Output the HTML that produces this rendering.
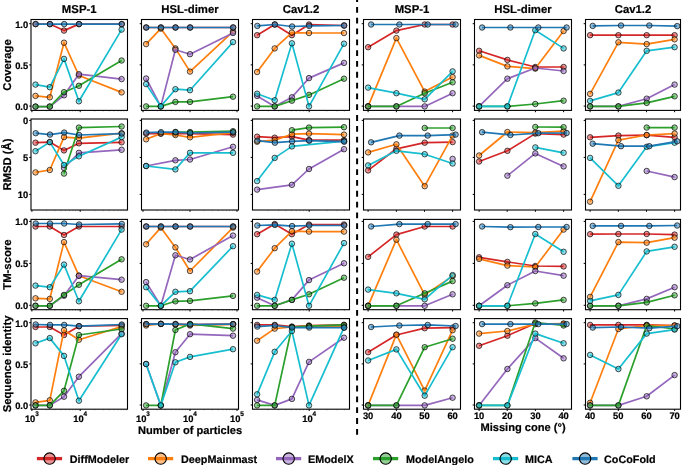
<!DOCTYPE html><html><head><meta charset="utf-8"><style>html,body{margin:0;padding:0;background:#fff;overflow:hidden;width:685px;height:465px;}svg{display:block;will-change:transform;}text{font-family:"Liberation Sans",sans-serif;font-weight:bold;fill:#000;stroke:#000;stroke-width:0.2px;text-rendering:geometricPrecision;}</style></head><body>
<svg width="685" height="465" viewBox="0 0 685 465">
<rect width="685" height="465" fill="#fff"/>
<text x="79.2" y="13.1" font-size="11.35" text-anchor="middle">MSP-1</text>
<text x="190.0" y="13.1" font-size="11.35" text-anchor="middle">HSL-dimer</text>
<text x="301.0" y="13.1" font-size="11.35" text-anchor="middle">Cav1.2</text>
<text x="412.0" y="13.1" font-size="11.35" text-anchor="middle">MSP-1</text>
<text x="523.0" y="13.1" font-size="11.35" text-anchor="middle">HSL-dimer</text>
<text x="633.0" y="13.1" font-size="11.35" text-anchor="middle">Cav1.2</text>
<text transform="translate(11.3,65.0) rotate(-90)" font-size="11.3" text-anchor="middle">Coverage</text>
<text transform="translate(11.3,164.5) rotate(-90)" font-size="11.3" text-anchor="middle">RMSD (Å)</text>
<text transform="translate(11.3,264.6) rotate(-90)" font-size="11.3" text-anchor="middle">TM-score</text>
<text transform="translate(11.3,363.9) rotate(-90)" font-size="11.3" text-anchor="middle">Sequence identity</text>
<clipPath id="cp00"><rect x="31" y="19.5" width="96.5" height="90.9"/></clipPath>
<line x1="29.2" y1="23.7" x2="31" y2="23.7" stroke="#000" stroke-width="1"/>
<text transform="translate(28.2,27.6) scale(1,1.0)" font-size="9.4" text-anchor="end">1.0</text>
<line x1="29.2" y1="64.9" x2="31" y2="64.9" stroke="#000" stroke-width="1"/>
<text transform="translate(28.2,68.8) scale(1,1.0)" font-size="9.4" text-anchor="end">0.5</text>
<line x1="29.2" y1="106.1" x2="31" y2="106.1" stroke="#000" stroke-width="1"/>
<text transform="translate(28.2,110.0) scale(1,1.0)" font-size="9.4" text-anchor="end">0.0</text>
<line x1="31.9" y1="110.4" x2="31.9" y2="112.2" stroke="#000" stroke-width="1"/>
<line x1="80.2" y1="110.4" x2="80.2" y2="112.2" stroke="#000" stroke-width="1"/>
<line x1="46.4" y1="110.4" x2="46.4" y2="111.60000000000001" stroke="#000" stroke-opacity="0.5" stroke-width="0.5"/>
<line x1="54.9" y1="110.4" x2="54.9" y2="111.60000000000001" stroke="#000" stroke-opacity="0.5" stroke-width="0.5"/>
<line x1="61.0" y1="110.4" x2="61.0" y2="111.60000000000001" stroke="#000" stroke-opacity="0.5" stroke-width="0.5"/>
<line x1="65.7" y1="110.4" x2="65.7" y2="111.60000000000001" stroke="#000" stroke-opacity="0.5" stroke-width="0.5"/>
<line x1="69.5" y1="110.4" x2="69.5" y2="111.60000000000001" stroke="#000" stroke-opacity="0.5" stroke-width="0.5"/>
<line x1="72.7" y1="110.4" x2="72.7" y2="111.60000000000001" stroke="#000" stroke-opacity="0.5" stroke-width="0.5"/>
<line x1="75.5" y1="110.4" x2="75.5" y2="111.60000000000001" stroke="#000" stroke-opacity="0.5" stroke-width="0.5"/>
<line x1="78.0" y1="110.4" x2="78.0" y2="111.60000000000001" stroke="#000" stroke-opacity="0.5" stroke-width="0.5"/>
<line x1="94.7" y1="110.4" x2="94.7" y2="111.60000000000001" stroke="#000" stroke-opacity="0.5" stroke-width="0.5"/>
<line x1="103.2" y1="110.4" x2="103.2" y2="111.60000000000001" stroke="#000" stroke-opacity="0.5" stroke-width="0.5"/>
<line x1="109.3" y1="110.4" x2="109.3" y2="111.60000000000001" stroke="#000" stroke-opacity="0.5" stroke-width="0.5"/>
<line x1="114.0" y1="110.4" x2="114.0" y2="111.60000000000001" stroke="#000" stroke-opacity="0.5" stroke-width="0.5"/>
<line x1="117.8" y1="110.4" x2="117.8" y2="111.60000000000001" stroke="#000" stroke-opacity="0.5" stroke-width="0.5"/>
<line x1="121.0" y1="110.4" x2="121.0" y2="111.60000000000001" stroke="#000" stroke-opacity="0.5" stroke-width="0.5"/>
<line x1="123.8" y1="110.4" x2="123.8" y2="111.60000000000001" stroke="#000" stroke-opacity="0.5" stroke-width="0.5"/>
<line x1="126.3" y1="110.4" x2="126.3" y2="111.60000000000001" stroke="#000" stroke-opacity="0.5" stroke-width="0.5"/>
<g clip-path="url(#cp00)"><polyline fill="none" stroke="#d62728" stroke-width="1.7" stroke-linejoin="round" points="35.5,24.1 49.8,24.1 64.0,30.6 78.9,24.1 121.6,24.1"/><circle cx="35.5" cy="24.1" r="2.75" fill="#d62728" fill-opacity="0.5" stroke="#000" stroke-opacity="0.85" stroke-width="0.8"/><circle cx="49.8" cy="24.1" r="2.75" fill="#d62728" fill-opacity="0.5" stroke="#000" stroke-opacity="0.85" stroke-width="0.8"/><circle cx="64.0" cy="30.6" r="2.75" fill="#d62728" fill-opacity="0.5" stroke="#000" stroke-opacity="0.85" stroke-width="0.8"/><circle cx="78.9" cy="24.1" r="2.75" fill="#d62728" fill-opacity="0.5" stroke="#000" stroke-opacity="0.85" stroke-width="0.8"/><circle cx="121.6" cy="24.1" r="2.75" fill="#d62728" fill-opacity="0.5" stroke="#000" stroke-opacity="0.85" stroke-width="0.8"/><polyline fill="none" stroke="#ff7f0e" stroke-width="1.7" stroke-linejoin="round" points="35.5,95.9 49.8,97.3 64.0,42.7 78.9,75.5 121.6,92.4"/><circle cx="35.5" cy="95.9" r="2.75" fill="#ff7f0e" fill-opacity="0.5" stroke="#000" stroke-opacity="0.85" stroke-width="0.8"/><circle cx="49.8" cy="97.3" r="2.75" fill="#ff7f0e" fill-opacity="0.5" stroke="#000" stroke-opacity="0.85" stroke-width="0.8"/><circle cx="64.0" cy="42.7" r="2.75" fill="#ff7f0e" fill-opacity="0.5" stroke="#000" stroke-opacity="0.85" stroke-width="0.8"/><circle cx="78.9" cy="75.5" r="2.75" fill="#ff7f0e" fill-opacity="0.5" stroke="#000" stroke-opacity="0.85" stroke-width="0.8"/><circle cx="121.6" cy="92.4" r="2.75" fill="#ff7f0e" fill-opacity="0.5" stroke="#000" stroke-opacity="0.85" stroke-width="0.8"/><polyline fill="none" stroke="#9467bd" stroke-width="1.7" stroke-linejoin="round" points="35.5,106.6 49.8,106.6 64.0,95.3 78.9,74.2 121.6,79.1"/><circle cx="35.5" cy="106.6" r="2.75" fill="#9467bd" fill-opacity="0.5" stroke="#000" stroke-opacity="0.85" stroke-width="0.8"/><circle cx="49.8" cy="106.6" r="2.75" fill="#9467bd" fill-opacity="0.5" stroke="#000" stroke-opacity="0.85" stroke-width="0.8"/><circle cx="64.0" cy="95.3" r="2.75" fill="#9467bd" fill-opacity="0.5" stroke="#000" stroke-opacity="0.85" stroke-width="0.8"/><circle cx="78.9" cy="74.2" r="2.75" fill="#9467bd" fill-opacity="0.5" stroke="#000" stroke-opacity="0.85" stroke-width="0.8"/><circle cx="121.6" cy="79.1" r="2.75" fill="#9467bd" fill-opacity="0.5" stroke="#000" stroke-opacity="0.85" stroke-width="0.8"/><polyline fill="none" stroke="#2ca02c" stroke-width="1.7" stroke-linejoin="round" points="35.5,106.6 49.8,106.6 64.0,92.2 78.9,85.8 121.6,60.5"/><circle cx="35.5" cy="106.6" r="2.75" fill="#2ca02c" fill-opacity="0.5" stroke="#000" stroke-opacity="0.85" stroke-width="0.8"/><circle cx="49.8" cy="106.6" r="2.75" fill="#2ca02c" fill-opacity="0.5" stroke="#000" stroke-opacity="0.85" stroke-width="0.8"/><circle cx="64.0" cy="92.2" r="2.75" fill="#2ca02c" fill-opacity="0.5" stroke="#000" stroke-opacity="0.85" stroke-width="0.8"/><circle cx="78.9" cy="85.8" r="2.75" fill="#2ca02c" fill-opacity="0.5" stroke="#000" stroke-opacity="0.85" stroke-width="0.8"/><circle cx="121.6" cy="60.5" r="2.75" fill="#2ca02c" fill-opacity="0.5" stroke="#000" stroke-opacity="0.85" stroke-width="0.8"/><polyline fill="none" stroke="#17becf" stroke-width="1.7" stroke-linejoin="round" points="35.5,84.6 49.8,87.2 64.0,58.9 78.9,101.3 121.6,29.6"/><circle cx="35.5" cy="84.6" r="2.75" fill="#17becf" fill-opacity="0.5" stroke="#000" stroke-opacity="0.85" stroke-width="0.8"/><circle cx="49.8" cy="87.2" r="2.75" fill="#17becf" fill-opacity="0.5" stroke="#000" stroke-opacity="0.85" stroke-width="0.8"/><circle cx="64.0" cy="58.9" r="2.75" fill="#17becf" fill-opacity="0.5" stroke="#000" stroke-opacity="0.85" stroke-width="0.8"/><circle cx="78.9" cy="101.3" r="2.75" fill="#17becf" fill-opacity="0.5" stroke="#000" stroke-opacity="0.85" stroke-width="0.8"/><circle cx="121.6" cy="29.6" r="2.75" fill="#17becf" fill-opacity="0.5" stroke="#000" stroke-opacity="0.85" stroke-width="0.8"/><polyline fill="none" stroke="#1f77b4" stroke-width="1.7" stroke-linejoin="round" points="35.7,24.1 50.0,24.1 64.2,24.1 79.1,24.1 121.8,24.1"/><circle cx="35.7" cy="24.1" r="2.75" fill="#1f77b4" fill-opacity="0.5" stroke="#000" stroke-opacity="0.85" stroke-width="0.8"/><circle cx="50.0" cy="24.1" r="2.75" fill="#1f77b4" fill-opacity="0.5" stroke="#000" stroke-opacity="0.85" stroke-width="0.8"/><circle cx="64.2" cy="24.1" r="2.75" fill="#1f77b4" fill-opacity="0.5" stroke="#000" stroke-opacity="0.85" stroke-width="0.8"/><circle cx="79.1" cy="24.1" r="2.75" fill="#1f77b4" fill-opacity="0.5" stroke="#000" stroke-opacity="0.85" stroke-width="0.8"/><circle cx="121.8" cy="24.1" r="2.75" fill="#1f77b4" fill-opacity="0.5" stroke="#000" stroke-opacity="0.85" stroke-width="0.8"/></g>
<rect x="31" y="19.5" width="96.5" height="90.9" fill="none" stroke="#000" stroke-width="1.1"/>
<clipPath id="cp01"><rect x="141.5" y="19.5" width="97.0" height="90.9"/></clipPath>
<line x1="139.7" y1="23.7" x2="141.5" y2="23.7" stroke="#000" stroke-width="1"/>
<line x1="139.7" y1="64.9" x2="141.5" y2="64.9" stroke="#000" stroke-width="1"/>
<line x1="139.7" y1="106.1" x2="141.5" y2="106.1" stroke="#000" stroke-width="1"/>
<line x1="143.0" y1="110.4" x2="143.0" y2="112.2" stroke="#000" stroke-width="1"/>
<line x1="190.0" y1="110.4" x2="190.0" y2="112.2" stroke="#000" stroke-width="1"/>
<line x1="237.0" y1="110.4" x2="237.0" y2="112.2" stroke="#000" stroke-width="1"/>
<line x1="157.1" y1="110.4" x2="157.1" y2="111.60000000000001" stroke="#000" stroke-opacity="0.5" stroke-width="0.5"/>
<line x1="165.4" y1="110.4" x2="165.4" y2="111.60000000000001" stroke="#000" stroke-opacity="0.5" stroke-width="0.5"/>
<line x1="171.3" y1="110.4" x2="171.3" y2="111.60000000000001" stroke="#000" stroke-opacity="0.5" stroke-width="0.5"/>
<line x1="175.9" y1="110.4" x2="175.9" y2="111.60000000000001" stroke="#000" stroke-opacity="0.5" stroke-width="0.5"/>
<line x1="179.6" y1="110.4" x2="179.6" y2="111.60000000000001" stroke="#000" stroke-opacity="0.5" stroke-width="0.5"/>
<line x1="182.7" y1="110.4" x2="182.7" y2="111.60000000000001" stroke="#000" stroke-opacity="0.5" stroke-width="0.5"/>
<line x1="185.4" y1="110.4" x2="185.4" y2="111.60000000000001" stroke="#000" stroke-opacity="0.5" stroke-width="0.5"/>
<line x1="187.8" y1="110.4" x2="187.8" y2="111.60000000000001" stroke="#000" stroke-opacity="0.5" stroke-width="0.5"/>
<line x1="204.1" y1="110.4" x2="204.1" y2="111.60000000000001" stroke="#000" stroke-opacity="0.5" stroke-width="0.5"/>
<line x1="212.4" y1="110.4" x2="212.4" y2="111.60000000000001" stroke="#000" stroke-opacity="0.5" stroke-width="0.5"/>
<line x1="218.3" y1="110.4" x2="218.3" y2="111.60000000000001" stroke="#000" stroke-opacity="0.5" stroke-width="0.5"/>
<line x1="222.9" y1="110.4" x2="222.9" y2="111.60000000000001" stroke="#000" stroke-opacity="0.5" stroke-width="0.5"/>
<line x1="226.6" y1="110.4" x2="226.6" y2="111.60000000000001" stroke="#000" stroke-opacity="0.5" stroke-width="0.5"/>
<line x1="229.7" y1="110.4" x2="229.7" y2="111.60000000000001" stroke="#000" stroke-opacity="0.5" stroke-width="0.5"/>
<line x1="232.4" y1="110.4" x2="232.4" y2="111.60000000000001" stroke="#000" stroke-opacity="0.5" stroke-width="0.5"/>
<line x1="234.8" y1="110.4" x2="234.8" y2="111.60000000000001" stroke="#000" stroke-opacity="0.5" stroke-width="0.5"/>
<g clip-path="url(#cp01)"><polyline fill="none" stroke="#d62728" stroke-width="1.7" stroke-linejoin="round" points="146.1,27.5 160.8,27.5 175.4,27.5 190.0,27.5 233.0,27.5"/><circle cx="146.1" cy="27.5" r="2.75" fill="#d62728" fill-opacity="0.5" stroke="#000" stroke-opacity="0.85" stroke-width="0.8"/><circle cx="160.8" cy="27.5" r="2.75" fill="#d62728" fill-opacity="0.5" stroke="#000" stroke-opacity="0.85" stroke-width="0.8"/><circle cx="175.4" cy="27.5" r="2.75" fill="#d62728" fill-opacity="0.5" stroke="#000" stroke-opacity="0.85" stroke-width="0.8"/><circle cx="190.0" cy="27.5" r="2.75" fill="#d62728" fill-opacity="0.5" stroke="#000" stroke-opacity="0.85" stroke-width="0.8"/><circle cx="233.0" cy="27.5" r="2.75" fill="#d62728" fill-opacity="0.5" stroke="#000" stroke-opacity="0.85" stroke-width="0.8"/><polyline fill="none" stroke="#ff7f0e" stroke-width="1.7" stroke-linejoin="round" points="146.1,44.1 160.8,28.6 175.4,48.4 190.0,71.6 233.0,31.6"/><circle cx="146.1" cy="44.1" r="2.75" fill="#ff7f0e" fill-opacity="0.5" stroke="#000" stroke-opacity="0.85" stroke-width="0.8"/><circle cx="160.8" cy="28.6" r="2.75" fill="#ff7f0e" fill-opacity="0.5" stroke="#000" stroke-opacity="0.85" stroke-width="0.8"/><circle cx="175.4" cy="48.4" r="2.75" fill="#ff7f0e" fill-opacity="0.5" stroke="#000" stroke-opacity="0.85" stroke-width="0.8"/><circle cx="190.0" cy="71.6" r="2.75" fill="#ff7f0e" fill-opacity="0.5" stroke="#000" stroke-opacity="0.85" stroke-width="0.8"/><circle cx="233.0" cy="31.6" r="2.75" fill="#ff7f0e" fill-opacity="0.5" stroke="#000" stroke-opacity="0.85" stroke-width="0.8"/><polyline fill="none" stroke="#9467bd" stroke-width="1.7" stroke-linejoin="round" points="146.1,78.5 160.8,106.4 175.4,49.8 190.0,54.2 233.0,33.0"/><circle cx="146.1" cy="78.5" r="2.75" fill="#9467bd" fill-opacity="0.5" stroke="#000" stroke-opacity="0.85" stroke-width="0.8"/><circle cx="160.8" cy="106.4" r="2.75" fill="#9467bd" fill-opacity="0.5" stroke="#000" stroke-opacity="0.85" stroke-width="0.8"/><circle cx="175.4" cy="49.8" r="2.75" fill="#9467bd" fill-opacity="0.5" stroke="#000" stroke-opacity="0.85" stroke-width="0.8"/><circle cx="190.0" cy="54.2" r="2.75" fill="#9467bd" fill-opacity="0.5" stroke="#000" stroke-opacity="0.85" stroke-width="0.8"/><circle cx="233.0" cy="33.0" r="2.75" fill="#9467bd" fill-opacity="0.5" stroke="#000" stroke-opacity="0.85" stroke-width="0.8"/><polyline fill="none" stroke="#2ca02c" stroke-width="1.7" stroke-linejoin="round" points="146.1,106.4 160.8,106.4 175.4,101.9 190.0,101.9 233.0,96.7"/><circle cx="146.1" cy="106.4" r="2.75" fill="#2ca02c" fill-opacity="0.5" stroke="#000" stroke-opacity="0.85" stroke-width="0.8"/><circle cx="160.8" cy="106.4" r="2.75" fill="#2ca02c" fill-opacity="0.5" stroke="#000" stroke-opacity="0.85" stroke-width="0.8"/><circle cx="175.4" cy="101.9" r="2.75" fill="#2ca02c" fill-opacity="0.5" stroke="#000" stroke-opacity="0.85" stroke-width="0.8"/><circle cx="190.0" cy="101.9" r="2.75" fill="#2ca02c" fill-opacity="0.5" stroke="#000" stroke-opacity="0.85" stroke-width="0.8"/><circle cx="233.0" cy="96.7" r="2.75" fill="#2ca02c" fill-opacity="0.5" stroke="#000" stroke-opacity="0.85" stroke-width="0.8"/><polyline fill="none" stroke="#17becf" stroke-width="1.7" stroke-linejoin="round" points="146.1,84.1 160.8,106.4 175.4,89.2 190.0,90.2 233.0,42.1"/><circle cx="146.1" cy="84.1" r="2.75" fill="#17becf" fill-opacity="0.5" stroke="#000" stroke-opacity="0.85" stroke-width="0.8"/><circle cx="160.8" cy="106.4" r="2.75" fill="#17becf" fill-opacity="0.5" stroke="#000" stroke-opacity="0.85" stroke-width="0.8"/><circle cx="175.4" cy="89.2" r="2.75" fill="#17becf" fill-opacity="0.5" stroke="#000" stroke-opacity="0.85" stroke-width="0.8"/><circle cx="190.0" cy="90.2" r="2.75" fill="#17becf" fill-opacity="0.5" stroke="#000" stroke-opacity="0.85" stroke-width="0.8"/><circle cx="233.0" cy="42.1" r="2.75" fill="#17becf" fill-opacity="0.5" stroke="#000" stroke-opacity="0.85" stroke-width="0.8"/><polyline fill="none" stroke="#1f77b4" stroke-width="1.7" stroke-linejoin="round" points="146.3,27.5 161.0,27.5 175.6,27.5 190.2,27.5 233.2,27.5"/><circle cx="146.3" cy="27.5" r="2.75" fill="#1f77b4" fill-opacity="0.5" stroke="#000" stroke-opacity="0.85" stroke-width="0.8"/><circle cx="161.0" cy="27.5" r="2.75" fill="#1f77b4" fill-opacity="0.5" stroke="#000" stroke-opacity="0.85" stroke-width="0.8"/><circle cx="175.6" cy="27.5" r="2.75" fill="#1f77b4" fill-opacity="0.5" stroke="#000" stroke-opacity="0.85" stroke-width="0.8"/><circle cx="190.2" cy="27.5" r="2.75" fill="#1f77b4" fill-opacity="0.5" stroke="#000" stroke-opacity="0.85" stroke-width="0.8"/><circle cx="233.2" cy="27.5" r="2.75" fill="#1f77b4" fill-opacity="0.5" stroke="#000" stroke-opacity="0.85" stroke-width="0.8"/></g>
<rect x="141.5" y="19.5" width="97.0" height="90.9" fill="none" stroke="#000" stroke-width="1.1"/>
<clipPath id="cp02"><rect x="252.5" y="19.5" width="97.0" height="90.9"/></clipPath>
<line x1="250.7" y1="23.7" x2="252.5" y2="23.7" stroke="#000" stroke-width="1"/>
<line x1="250.7" y1="64.9" x2="252.5" y2="64.9" stroke="#000" stroke-width="1"/>
<line x1="250.7" y1="106.1" x2="252.5" y2="106.1" stroke="#000" stroke-width="1"/>
<line x1="309.2" y1="110.4" x2="309.2" y2="112.2" stroke="#000" stroke-width="1"/>
<line x1="268.3" y1="110.4" x2="268.3" y2="111.60000000000001" stroke="#000" stroke-opacity="0.5" stroke-width="0.5"/>
<line x1="278.6" y1="110.4" x2="278.6" y2="111.60000000000001" stroke="#000" stroke-opacity="0.5" stroke-width="0.5"/>
<line x1="285.9" y1="110.4" x2="285.9" y2="111.60000000000001" stroke="#000" stroke-opacity="0.5" stroke-width="0.5"/>
<line x1="291.6" y1="110.4" x2="291.6" y2="111.60000000000001" stroke="#000" stroke-opacity="0.5" stroke-width="0.5"/>
<line x1="296.2" y1="110.4" x2="296.2" y2="111.60000000000001" stroke="#000" stroke-opacity="0.5" stroke-width="0.5"/>
<line x1="300.1" y1="110.4" x2="300.1" y2="111.60000000000001" stroke="#000" stroke-opacity="0.5" stroke-width="0.5"/>
<line x1="303.5" y1="110.4" x2="303.5" y2="111.60000000000001" stroke="#000" stroke-opacity="0.5" stroke-width="0.5"/>
<line x1="306.5" y1="110.4" x2="306.5" y2="111.60000000000001" stroke="#000" stroke-opacity="0.5" stroke-width="0.5"/>
<line x1="326.8" y1="110.4" x2="326.8" y2="111.60000000000001" stroke="#000" stroke-opacity="0.5" stroke-width="0.5"/>
<line x1="337.1" y1="110.4" x2="337.1" y2="111.60000000000001" stroke="#000" stroke-opacity="0.5" stroke-width="0.5"/>
<line x1="344.4" y1="110.4" x2="344.4" y2="111.60000000000001" stroke="#000" stroke-opacity="0.5" stroke-width="0.5"/>
<g clip-path="url(#cp02)"><polyline fill="none" stroke="#d62728" stroke-width="1.7" stroke-linejoin="round" points="257.1,35.2 274.7,24.5 291.9,35.2 309.0,24.5 344.0,25.5"/><circle cx="257.1" cy="35.2" r="2.75" fill="#d62728" fill-opacity="0.5" stroke="#000" stroke-opacity="0.85" stroke-width="0.8"/><circle cx="274.7" cy="24.5" r="2.75" fill="#d62728" fill-opacity="0.5" stroke="#000" stroke-opacity="0.85" stroke-width="0.8"/><circle cx="291.9" cy="35.2" r="2.75" fill="#d62728" fill-opacity="0.5" stroke="#000" stroke-opacity="0.85" stroke-width="0.8"/><circle cx="309.0" cy="24.5" r="2.75" fill="#d62728" fill-opacity="0.5" stroke="#000" stroke-opacity="0.85" stroke-width="0.8"/><circle cx="344.0" cy="25.5" r="2.75" fill="#d62728" fill-opacity="0.5" stroke="#000" stroke-opacity="0.85" stroke-width="0.8"/><polyline fill="none" stroke="#ff7f0e" stroke-width="1.7" stroke-linejoin="round" points="257.1,72.0 274.7,48.4 291.9,32.6 309.0,33.0 344.0,33.0"/><circle cx="257.1" cy="72.0" r="2.75" fill="#ff7f0e" fill-opacity="0.5" stroke="#000" stroke-opacity="0.85" stroke-width="0.8"/><circle cx="274.7" cy="48.4" r="2.75" fill="#ff7f0e" fill-opacity="0.5" stroke="#000" stroke-opacity="0.85" stroke-width="0.8"/><circle cx="291.9" cy="32.6" r="2.75" fill="#ff7f0e" fill-opacity="0.5" stroke="#000" stroke-opacity="0.85" stroke-width="0.8"/><circle cx="309.0" cy="33.0" r="2.75" fill="#ff7f0e" fill-opacity="0.5" stroke="#000" stroke-opacity="0.85" stroke-width="0.8"/><circle cx="344.0" cy="33.0" r="2.75" fill="#ff7f0e" fill-opacity="0.5" stroke="#000" stroke-opacity="0.85" stroke-width="0.8"/><polyline fill="none" stroke="#9467bd" stroke-width="1.7" stroke-linejoin="round" points="257.1,95.9 274.7,106.4 291.9,97.3 309.0,78.1 344.0,62.9"/><circle cx="257.1" cy="95.9" r="2.75" fill="#9467bd" fill-opacity="0.5" stroke="#000" stroke-opacity="0.85" stroke-width="0.8"/><circle cx="274.7" cy="106.4" r="2.75" fill="#9467bd" fill-opacity="0.5" stroke="#000" stroke-opacity="0.85" stroke-width="0.8"/><circle cx="291.9" cy="97.3" r="2.75" fill="#9467bd" fill-opacity="0.5" stroke="#000" stroke-opacity="0.85" stroke-width="0.8"/><circle cx="309.0" cy="78.1" r="2.75" fill="#9467bd" fill-opacity="0.5" stroke="#000" stroke-opacity="0.85" stroke-width="0.8"/><circle cx="344.0" cy="62.9" r="2.75" fill="#9467bd" fill-opacity="0.5" stroke="#000" stroke-opacity="0.85" stroke-width="0.8"/><polyline fill="none" stroke="#2ca02c" stroke-width="1.7" stroke-linejoin="round" points="257.1,106.4 274.7,106.4 291.9,100.7 309.0,94.9 344.0,78.7"/><circle cx="257.1" cy="106.4" r="2.75" fill="#2ca02c" fill-opacity="0.5" stroke="#000" stroke-opacity="0.85" stroke-width="0.8"/><circle cx="274.7" cy="106.4" r="2.75" fill="#2ca02c" fill-opacity="0.5" stroke="#000" stroke-opacity="0.85" stroke-width="0.8"/><circle cx="291.9" cy="100.7" r="2.75" fill="#2ca02c" fill-opacity="0.5" stroke="#000" stroke-opacity="0.85" stroke-width="0.8"/><circle cx="309.0" cy="94.9" r="2.75" fill="#2ca02c" fill-opacity="0.5" stroke="#000" stroke-opacity="0.85" stroke-width="0.8"/><circle cx="344.0" cy="78.7" r="2.75" fill="#2ca02c" fill-opacity="0.5" stroke="#000" stroke-opacity="0.85" stroke-width="0.8"/><polyline fill="none" stroke="#17becf" stroke-width="1.7" stroke-linejoin="round" points="257.1,93.7 274.7,100.3 291.9,43.3 309.0,106.4 344.0,43.7"/><circle cx="257.1" cy="93.7" r="2.75" fill="#17becf" fill-opacity="0.5" stroke="#000" stroke-opacity="0.85" stroke-width="0.8"/><circle cx="274.7" cy="100.3" r="2.75" fill="#17becf" fill-opacity="0.5" stroke="#000" stroke-opacity="0.85" stroke-width="0.8"/><circle cx="291.9" cy="43.3" r="2.75" fill="#17becf" fill-opacity="0.5" stroke="#000" stroke-opacity="0.85" stroke-width="0.8"/><circle cx="309.0" cy="106.4" r="2.75" fill="#17becf" fill-opacity="0.5" stroke="#000" stroke-opacity="0.85" stroke-width="0.8"/><circle cx="344.0" cy="43.7" r="2.75" fill="#17becf" fill-opacity="0.5" stroke="#000" stroke-opacity="0.85" stroke-width="0.8"/><polyline fill="none" stroke="#1f77b4" stroke-width="1.7" stroke-linejoin="round" points="257.3,25.9 274.9,24.5 292.1,26.5 309.2,25.9 344.2,25.5"/><circle cx="257.3" cy="25.9" r="2.75" fill="#1f77b4" fill-opacity="0.5" stroke="#000" stroke-opacity="0.85" stroke-width="0.8"/><circle cx="274.9" cy="24.5" r="2.75" fill="#1f77b4" fill-opacity="0.5" stroke="#000" stroke-opacity="0.85" stroke-width="0.8"/><circle cx="292.1" cy="26.5" r="2.75" fill="#1f77b4" fill-opacity="0.5" stroke="#000" stroke-opacity="0.85" stroke-width="0.8"/><circle cx="309.2" cy="25.9" r="2.75" fill="#1f77b4" fill-opacity="0.5" stroke="#000" stroke-opacity="0.85" stroke-width="0.8"/><circle cx="344.2" cy="25.5" r="2.75" fill="#1f77b4" fill-opacity="0.5" stroke="#000" stroke-opacity="0.85" stroke-width="0.8"/></g>
<rect x="252.5" y="19.5" width="97.0" height="90.9" fill="none" stroke="#000" stroke-width="1.1"/>
<clipPath id="cp03"><rect x="363.5" y="19.5" width="97.0" height="90.9"/></clipPath>
<line x1="361.7" y1="23.7" x2="363.5" y2="23.7" stroke="#000" stroke-width="1"/>
<line x1="361.7" y1="64.9" x2="363.5" y2="64.9" stroke="#000" stroke-width="1"/>
<line x1="361.7" y1="106.1" x2="363.5" y2="106.1" stroke="#000" stroke-width="1"/>
<line x1="368.1" y1="110.4" x2="368.1" y2="112.2" stroke="#000" stroke-width="1"/>
<line x1="396.4" y1="110.4" x2="396.4" y2="112.2" stroke="#000" stroke-width="1"/>
<line x1="424.5" y1="110.4" x2="424.5" y2="112.2" stroke="#000" stroke-width="1"/>
<line x1="452.6" y1="110.4" x2="452.6" y2="112.2" stroke="#000" stroke-width="1"/>
<g clip-path="url(#cp03)"><polyline fill="none" stroke="#d62728" stroke-width="1.7" stroke-linejoin="round" points="368.1,47.2 396.4,30.6 424.7,24.5 452.6,24.5"/><circle cx="368.1" cy="47.2" r="2.75" fill="#d62728" fill-opacity="0.5" stroke="#000" stroke-opacity="0.85" stroke-width="0.8"/><circle cx="396.4" cy="30.6" r="2.75" fill="#d62728" fill-opacity="0.5" stroke="#000" stroke-opacity="0.85" stroke-width="0.8"/><circle cx="424.7" cy="24.5" r="2.75" fill="#d62728" fill-opacity="0.5" stroke="#000" stroke-opacity="0.85" stroke-width="0.8"/><circle cx="452.6" cy="24.5" r="2.75" fill="#d62728" fill-opacity="0.5" stroke="#000" stroke-opacity="0.85" stroke-width="0.8"/><polyline fill="none" stroke="#ff7f0e" stroke-width="1.7" stroke-linejoin="round" points="368.1,106.4 396.4,38.1 424.7,91.6 452.6,77.1"/><circle cx="368.1" cy="106.4" r="2.75" fill="#ff7f0e" fill-opacity="0.5" stroke="#000" stroke-opacity="0.85" stroke-width="0.8"/><circle cx="396.4" cy="38.1" r="2.75" fill="#ff7f0e" fill-opacity="0.5" stroke="#000" stroke-opacity="0.85" stroke-width="0.8"/><circle cx="424.7" cy="91.6" r="2.75" fill="#ff7f0e" fill-opacity="0.5" stroke="#000" stroke-opacity="0.85" stroke-width="0.8"/><circle cx="452.6" cy="77.1" r="2.75" fill="#ff7f0e" fill-opacity="0.5" stroke="#000" stroke-opacity="0.85" stroke-width="0.8"/><polyline fill="none" stroke="#9467bd" stroke-width="1.7" stroke-linejoin="round" points="368.1,106.4 396.4,106.4 424.7,106.4 452.6,93.2"/><circle cx="368.1" cy="106.4" r="2.75" fill="#9467bd" fill-opacity="0.5" stroke="#000" stroke-opacity="0.85" stroke-width="0.8"/><circle cx="396.4" cy="106.4" r="2.75" fill="#9467bd" fill-opacity="0.5" stroke="#000" stroke-opacity="0.85" stroke-width="0.8"/><circle cx="424.7" cy="106.4" r="2.75" fill="#9467bd" fill-opacity="0.5" stroke="#000" stroke-opacity="0.85" stroke-width="0.8"/><circle cx="452.6" cy="93.2" r="2.75" fill="#9467bd" fill-opacity="0.5" stroke="#000" stroke-opacity="0.85" stroke-width="0.8"/><polyline fill="none" stroke="#2ca02c" stroke-width="1.7" stroke-linejoin="round" points="368.1,106.4 396.4,106.4 424.7,93.2 452.6,82.3"/><circle cx="368.1" cy="106.4" r="2.75" fill="#2ca02c" fill-opacity="0.5" stroke="#000" stroke-opacity="0.85" stroke-width="0.8"/><circle cx="396.4" cy="106.4" r="2.75" fill="#2ca02c" fill-opacity="0.5" stroke="#000" stroke-opacity="0.85" stroke-width="0.8"/><circle cx="424.7" cy="93.2" r="2.75" fill="#2ca02c" fill-opacity="0.5" stroke="#000" stroke-opacity="0.85" stroke-width="0.8"/><circle cx="452.6" cy="82.3" r="2.75" fill="#2ca02c" fill-opacity="0.5" stroke="#000" stroke-opacity="0.85" stroke-width="0.8"/><polyline fill="none" stroke="#17becf" stroke-width="1.7" stroke-linejoin="round" points="368.1,87.6 396.4,93.2 424.7,99.3 452.6,71.4"/><circle cx="368.1" cy="87.6" r="2.75" fill="#17becf" fill-opacity="0.5" stroke="#000" stroke-opacity="0.85" stroke-width="0.8"/><circle cx="396.4" cy="93.2" r="2.75" fill="#17becf" fill-opacity="0.5" stroke="#000" stroke-opacity="0.85" stroke-width="0.8"/><circle cx="424.7" cy="99.3" r="2.75" fill="#17becf" fill-opacity="0.5" stroke="#000" stroke-opacity="0.85" stroke-width="0.8"/><circle cx="452.6" cy="71.4" r="2.75" fill="#17becf" fill-opacity="0.5" stroke="#000" stroke-opacity="0.85" stroke-width="0.8"/><polyline fill="none" stroke="#1f77b4" stroke-width="1.7" stroke-linejoin="round" points="371.1,24.5 399.4,24.5 427.7,24.5 455.6,24.5"/><circle cx="371.1" cy="24.5" r="2.75" fill="#1f77b4" fill-opacity="0.5" stroke="#000" stroke-opacity="0.85" stroke-width="0.8"/><circle cx="399.4" cy="24.5" r="2.75" fill="#1f77b4" fill-opacity="0.5" stroke="#000" stroke-opacity="0.85" stroke-width="0.8"/><circle cx="427.7" cy="24.5" r="2.75" fill="#1f77b4" fill-opacity="0.5" stroke="#000" stroke-opacity="0.85" stroke-width="0.8"/><circle cx="455.6" cy="24.5" r="2.75" fill="#1f77b4" fill-opacity="0.5" stroke="#000" stroke-opacity="0.85" stroke-width="0.8"/></g>
<rect x="363.5" y="19.5" width="97.0" height="90.9" fill="none" stroke="#000" stroke-width="1.1"/>
<clipPath id="cp04"><rect x="474.5" y="19.5" width="97.0" height="90.9"/></clipPath>
<line x1="472.7" y1="23.7" x2="474.5" y2="23.7" stroke="#000" stroke-width="1"/>
<line x1="472.7" y1="64.9" x2="474.5" y2="64.9" stroke="#000" stroke-width="1"/>
<line x1="472.7" y1="106.1" x2="474.5" y2="106.1" stroke="#000" stroke-width="1"/>
<line x1="479.1" y1="110.4" x2="479.1" y2="112.2" stroke="#000" stroke-width="1"/>
<line x1="507.2" y1="110.4" x2="507.2" y2="112.2" stroke="#000" stroke-width="1"/>
<line x1="535.4" y1="110.4" x2="535.4" y2="112.2" stroke="#000" stroke-width="1"/>
<line x1="563.6" y1="110.4" x2="563.6" y2="112.2" stroke="#000" stroke-width="1"/>
<g clip-path="url(#cp04)"><polyline fill="none" stroke="#d62728" stroke-width="1.7" stroke-linejoin="round" points="479.1,50.8 507.4,59.9 535.3,67.0 563.6,67.0"/><circle cx="479.1" cy="50.8" r="2.75" fill="#d62728" fill-opacity="0.5" stroke="#000" stroke-opacity="0.85" stroke-width="0.8"/><circle cx="507.4" cy="59.9" r="2.75" fill="#d62728" fill-opacity="0.5" stroke="#000" stroke-opacity="0.85" stroke-width="0.8"/><circle cx="535.3" cy="67.0" r="2.75" fill="#d62728" fill-opacity="0.5" stroke="#000" stroke-opacity="0.85" stroke-width="0.8"/><circle cx="563.6" cy="67.0" r="2.75" fill="#d62728" fill-opacity="0.5" stroke="#000" stroke-opacity="0.85" stroke-width="0.8"/><polyline fill="none" stroke="#ff7f0e" stroke-width="1.7" stroke-linejoin="round" points="479.1,55.4 507.4,66.4 535.3,68.6 563.6,31.0"/><circle cx="479.1" cy="55.4" r="2.75" fill="#ff7f0e" fill-opacity="0.5" stroke="#000" stroke-opacity="0.85" stroke-width="0.8"/><circle cx="507.4" cy="66.4" r="2.75" fill="#ff7f0e" fill-opacity="0.5" stroke="#000" stroke-opacity="0.85" stroke-width="0.8"/><circle cx="535.3" cy="68.6" r="2.75" fill="#ff7f0e" fill-opacity="0.5" stroke="#000" stroke-opacity="0.85" stroke-width="0.8"/><circle cx="563.6" cy="31.0" r="2.75" fill="#ff7f0e" fill-opacity="0.5" stroke="#000" stroke-opacity="0.85" stroke-width="0.8"/><polyline fill="none" stroke="#9467bd" stroke-width="1.7" stroke-linejoin="round" points="479.1,106.4 507.4,78.7 535.3,68.0 563.6,71.0"/><circle cx="479.1" cy="106.4" r="2.75" fill="#9467bd" fill-opacity="0.5" stroke="#000" stroke-opacity="0.85" stroke-width="0.8"/><circle cx="507.4" cy="78.7" r="2.75" fill="#9467bd" fill-opacity="0.5" stroke="#000" stroke-opacity="0.85" stroke-width="0.8"/><circle cx="535.3" cy="68.0" r="2.75" fill="#9467bd" fill-opacity="0.5" stroke="#000" stroke-opacity="0.85" stroke-width="0.8"/><circle cx="563.6" cy="71.0" r="2.75" fill="#9467bd" fill-opacity="0.5" stroke="#000" stroke-opacity="0.85" stroke-width="0.8"/><polyline fill="none" stroke="#2ca02c" stroke-width="1.7" stroke-linejoin="round" points="479.1,106.4 507.4,106.4 535.3,104.0 563.6,100.7"/><circle cx="479.1" cy="106.4" r="2.75" fill="#2ca02c" fill-opacity="0.5" stroke="#000" stroke-opacity="0.85" stroke-width="0.8"/><circle cx="507.4" cy="106.4" r="2.75" fill="#2ca02c" fill-opacity="0.5" stroke="#000" stroke-opacity="0.85" stroke-width="0.8"/><circle cx="535.3" cy="104.0" r="2.75" fill="#2ca02c" fill-opacity="0.5" stroke="#000" stroke-opacity="0.85" stroke-width="0.8"/><circle cx="563.6" cy="100.7" r="2.75" fill="#2ca02c" fill-opacity="0.5" stroke="#000" stroke-opacity="0.85" stroke-width="0.8"/><polyline fill="none" stroke="#17becf" stroke-width="1.7" stroke-linejoin="round" points="479.1,106.4 507.4,106.4 535.3,30.2 563.6,48.4"/><circle cx="479.1" cy="106.4" r="2.75" fill="#17becf" fill-opacity="0.5" stroke="#000" stroke-opacity="0.85" stroke-width="0.8"/><circle cx="507.4" cy="106.4" r="2.75" fill="#17becf" fill-opacity="0.5" stroke="#000" stroke-opacity="0.85" stroke-width="0.8"/><circle cx="535.3" cy="30.2" r="2.75" fill="#17becf" fill-opacity="0.5" stroke="#000" stroke-opacity="0.85" stroke-width="0.8"/><circle cx="563.6" cy="48.4" r="2.75" fill="#17becf" fill-opacity="0.5" stroke="#000" stroke-opacity="0.85" stroke-width="0.8"/><polyline fill="none" stroke="#1f77b4" stroke-width="1.7" stroke-linejoin="round" points="482.1,27.5 510.4,27.5 538.3,27.5 566.6,27.5"/><circle cx="482.1" cy="27.5" r="2.75" fill="#1f77b4" fill-opacity="0.5" stroke="#000" stroke-opacity="0.85" stroke-width="0.8"/><circle cx="510.4" cy="27.5" r="2.75" fill="#1f77b4" fill-opacity="0.5" stroke="#000" stroke-opacity="0.85" stroke-width="0.8"/><circle cx="538.3" cy="27.5" r="2.75" fill="#1f77b4" fill-opacity="0.5" stroke="#000" stroke-opacity="0.85" stroke-width="0.8"/><circle cx="566.6" cy="27.5" r="2.75" fill="#1f77b4" fill-opacity="0.5" stroke="#000" stroke-opacity="0.85" stroke-width="0.8"/></g>
<rect x="474.5" y="19.5" width="97.0" height="90.9" fill="none" stroke="#000" stroke-width="1.1"/>
<clipPath id="cp05"><rect x="585.5" y="19.5" width="95.0" height="90.9"/></clipPath>
<line x1="583.7" y1="23.7" x2="585.5" y2="23.7" stroke="#000" stroke-width="1"/>
<line x1="583.7" y1="64.9" x2="585.5" y2="64.9" stroke="#000" stroke-width="1"/>
<line x1="583.7" y1="106.1" x2="585.5" y2="106.1" stroke="#000" stroke-width="1"/>
<line x1="590.1" y1="110.4" x2="590.1" y2="112.2" stroke="#000" stroke-width="1"/>
<line x1="618.3" y1="110.4" x2="618.3" y2="112.2" stroke="#000" stroke-width="1"/>
<line x1="646.5" y1="110.4" x2="646.5" y2="112.2" stroke="#000" stroke-width="1"/>
<line x1="674.6" y1="110.4" x2="674.6" y2="112.2" stroke="#000" stroke-width="1"/>
<g clip-path="url(#cp05)"><polyline fill="none" stroke="#d62728" stroke-width="1.7" stroke-linejoin="round" points="590.1,35.2 618.4,35.2 646.7,35.2 674.6,35.2"/><circle cx="590.1" cy="35.2" r="2.75" fill="#d62728" fill-opacity="0.5" stroke="#000" stroke-opacity="0.85" stroke-width="0.8"/><circle cx="618.4" cy="35.2" r="2.75" fill="#d62728" fill-opacity="0.5" stroke="#000" stroke-opacity="0.85" stroke-width="0.8"/><circle cx="646.7" cy="35.2" r="2.75" fill="#d62728" fill-opacity="0.5" stroke="#000" stroke-opacity="0.85" stroke-width="0.8"/><circle cx="674.6" cy="35.2" r="2.75" fill="#d62728" fill-opacity="0.5" stroke="#000" stroke-opacity="0.85" stroke-width="0.8"/><polyline fill="none" stroke="#ff7f0e" stroke-width="1.7" stroke-linejoin="round" points="590.1,93.9 618.4,42.3 646.7,44.1 674.6,39.3"/><circle cx="590.1" cy="93.9" r="2.75" fill="#ff7f0e" fill-opacity="0.5" stroke="#000" stroke-opacity="0.85" stroke-width="0.8"/><circle cx="618.4" cy="42.3" r="2.75" fill="#ff7f0e" fill-opacity="0.5" stroke="#000" stroke-opacity="0.85" stroke-width="0.8"/><circle cx="646.7" cy="44.1" r="2.75" fill="#ff7f0e" fill-opacity="0.5" stroke="#000" stroke-opacity="0.85" stroke-width="0.8"/><circle cx="674.6" cy="39.3" r="2.75" fill="#ff7f0e" fill-opacity="0.5" stroke="#000" stroke-opacity="0.85" stroke-width="0.8"/><polyline fill="none" stroke="#9467bd" stroke-width="1.7" stroke-linejoin="round" points="590.1,106.4 618.4,106.4 646.7,98.7 674.6,84.6"/><circle cx="590.1" cy="106.4" r="2.75" fill="#9467bd" fill-opacity="0.5" stroke="#000" stroke-opacity="0.85" stroke-width="0.8"/><circle cx="618.4" cy="106.4" r="2.75" fill="#9467bd" fill-opacity="0.5" stroke="#000" stroke-opacity="0.85" stroke-width="0.8"/><circle cx="646.7" cy="98.7" r="2.75" fill="#9467bd" fill-opacity="0.5" stroke="#000" stroke-opacity="0.85" stroke-width="0.8"/><circle cx="674.6" cy="84.6" r="2.75" fill="#9467bd" fill-opacity="0.5" stroke="#000" stroke-opacity="0.85" stroke-width="0.8"/><polyline fill="none" stroke="#2ca02c" stroke-width="1.7" stroke-linejoin="round" points="590.1,106.4 618.4,106.4 646.7,102.9 674.6,96.3"/><circle cx="590.1" cy="106.4" r="2.75" fill="#2ca02c" fill-opacity="0.5" stroke="#000" stroke-opacity="0.85" stroke-width="0.8"/><circle cx="618.4" cy="106.4" r="2.75" fill="#2ca02c" fill-opacity="0.5" stroke="#000" stroke-opacity="0.85" stroke-width="0.8"/><circle cx="646.7" cy="102.9" r="2.75" fill="#2ca02c" fill-opacity="0.5" stroke="#000" stroke-opacity="0.85" stroke-width="0.8"/><circle cx="674.6" cy="96.3" r="2.75" fill="#2ca02c" fill-opacity="0.5" stroke="#000" stroke-opacity="0.85" stroke-width="0.8"/><polyline fill="none" stroke="#17becf" stroke-width="1.7" stroke-linejoin="round" points="590.1,100.9 618.4,92.6 646.7,50.8 674.6,47.2"/><circle cx="590.1" cy="100.9" r="2.75" fill="#17becf" fill-opacity="0.5" stroke="#000" stroke-opacity="0.85" stroke-width="0.8"/><circle cx="618.4" cy="92.6" r="2.75" fill="#17becf" fill-opacity="0.5" stroke="#000" stroke-opacity="0.85" stroke-width="0.8"/><circle cx="646.7" cy="50.8" r="2.75" fill="#17becf" fill-opacity="0.5" stroke="#000" stroke-opacity="0.85" stroke-width="0.8"/><circle cx="674.6" cy="47.2" r="2.75" fill="#17becf" fill-opacity="0.5" stroke="#000" stroke-opacity="0.85" stroke-width="0.8"/><polyline fill="none" stroke="#1f77b4" stroke-width="1.7" stroke-linejoin="round" points="592.7,25.9 621.0,25.5 649.3,25.5 677.2,26.1"/><circle cx="592.7" cy="25.9" r="2.75" fill="#1f77b4" fill-opacity="0.5" stroke="#000" stroke-opacity="0.85" stroke-width="0.8"/><circle cx="621.0" cy="25.5" r="2.75" fill="#1f77b4" fill-opacity="0.5" stroke="#000" stroke-opacity="0.85" stroke-width="0.8"/><circle cx="649.3" cy="25.5" r="2.75" fill="#1f77b4" fill-opacity="0.5" stroke="#000" stroke-opacity="0.85" stroke-width="0.8"/><circle cx="677.2" cy="26.1" r="2.75" fill="#1f77b4" fill-opacity="0.5" stroke="#000" stroke-opacity="0.85" stroke-width="0.8"/></g>
<rect x="585.5" y="19.5" width="95.0" height="90.9" fill="none" stroke="#000" stroke-width="1.1"/>
<clipPath id="cp10"><rect x="31" y="119.0" width="96.5" height="91.0"/></clipPath>
<line x1="29.2" y1="120.4" x2="31" y2="120.4" stroke="#000" stroke-width="1"/>
<text transform="translate(28.2,124.3) scale(1,1.0)" font-size="9.4" text-anchor="end">0</text>
<line x1="29.2" y1="157.4" x2="31" y2="157.4" stroke="#000" stroke-width="1"/>
<text transform="translate(28.2,161.3) scale(1,1.0)" font-size="9.4" text-anchor="end">5</text>
<line x1="29.2" y1="194.4" x2="31" y2="194.4" stroke="#000" stroke-width="1"/>
<text transform="translate(28.2,198.3) scale(1,1.0)" font-size="9.4" text-anchor="end">10</text>
<line x1="31.9" y1="210" x2="31.9" y2="211.8" stroke="#000" stroke-width="1"/>
<line x1="80.2" y1="210" x2="80.2" y2="211.8" stroke="#000" stroke-width="1"/>
<line x1="46.4" y1="210" x2="46.4" y2="211.2" stroke="#000" stroke-opacity="0.5" stroke-width="0.5"/>
<line x1="54.9" y1="210" x2="54.9" y2="211.2" stroke="#000" stroke-opacity="0.5" stroke-width="0.5"/>
<line x1="61.0" y1="210" x2="61.0" y2="211.2" stroke="#000" stroke-opacity="0.5" stroke-width="0.5"/>
<line x1="65.7" y1="210" x2="65.7" y2="211.2" stroke="#000" stroke-opacity="0.5" stroke-width="0.5"/>
<line x1="69.5" y1="210" x2="69.5" y2="211.2" stroke="#000" stroke-opacity="0.5" stroke-width="0.5"/>
<line x1="72.7" y1="210" x2="72.7" y2="211.2" stroke="#000" stroke-opacity="0.5" stroke-width="0.5"/>
<line x1="75.5" y1="210" x2="75.5" y2="211.2" stroke="#000" stroke-opacity="0.5" stroke-width="0.5"/>
<line x1="78.0" y1="210" x2="78.0" y2="211.2" stroke="#000" stroke-opacity="0.5" stroke-width="0.5"/>
<line x1="94.7" y1="210" x2="94.7" y2="211.2" stroke="#000" stroke-opacity="0.5" stroke-width="0.5"/>
<line x1="103.2" y1="210" x2="103.2" y2="211.2" stroke="#000" stroke-opacity="0.5" stroke-width="0.5"/>
<line x1="109.3" y1="210" x2="109.3" y2="211.2" stroke="#000" stroke-opacity="0.5" stroke-width="0.5"/>
<line x1="114.0" y1="210" x2="114.0" y2="211.2" stroke="#000" stroke-opacity="0.5" stroke-width="0.5"/>
<line x1="117.8" y1="210" x2="117.8" y2="211.2" stroke="#000" stroke-opacity="0.5" stroke-width="0.5"/>
<line x1="121.0" y1="210" x2="121.0" y2="211.2" stroke="#000" stroke-opacity="0.5" stroke-width="0.5"/>
<line x1="123.8" y1="210" x2="123.8" y2="211.2" stroke="#000" stroke-opacity="0.5" stroke-width="0.5"/>
<line x1="126.3" y1="210" x2="126.3" y2="211.2" stroke="#000" stroke-opacity="0.5" stroke-width="0.5"/>
<g clip-path="url(#cp10)"><polyline fill="none" stroke="#d62728" stroke-width="1.7" stroke-linejoin="round" points="35.5,142.7 49.8,142.1 64.0,150.4 78.9,143.3 121.6,142.3"/><circle cx="35.5" cy="142.7" r="2.75" fill="#d62728" fill-opacity="0.5" stroke="#000" stroke-opacity="0.85" stroke-width="0.8"/><circle cx="49.8" cy="142.1" r="2.75" fill="#d62728" fill-opacity="0.5" stroke="#000" stroke-opacity="0.85" stroke-width="0.8"/><circle cx="64.0" cy="150.4" r="2.75" fill="#d62728" fill-opacity="0.5" stroke="#000" stroke-opacity="0.85" stroke-width="0.8"/><circle cx="78.9" cy="143.3" r="2.75" fill="#d62728" fill-opacity="0.5" stroke="#000" stroke-opacity="0.85" stroke-width="0.8"/><circle cx="121.6" cy="142.3" r="2.75" fill="#d62728" fill-opacity="0.5" stroke="#000" stroke-opacity="0.85" stroke-width="0.8"/><polyline fill="none" stroke="#ff7f0e" stroke-width="1.7" stroke-linejoin="round" points="35.5,172.4 49.8,170.0 64.0,137.1 78.9,138.1 121.6,133.2"/><circle cx="35.5" cy="172.4" r="2.75" fill="#ff7f0e" fill-opacity="0.5" stroke="#000" stroke-opacity="0.85" stroke-width="0.8"/><circle cx="49.8" cy="170.0" r="2.75" fill="#ff7f0e" fill-opacity="0.5" stroke="#000" stroke-opacity="0.85" stroke-width="0.8"/><circle cx="64.0" cy="137.1" r="2.75" fill="#ff7f0e" fill-opacity="0.5" stroke="#000" stroke-opacity="0.85" stroke-width="0.8"/><circle cx="78.9" cy="138.1" r="2.75" fill="#ff7f0e" fill-opacity="0.5" stroke="#000" stroke-opacity="0.85" stroke-width="0.8"/><circle cx="121.6" cy="133.2" r="2.75" fill="#ff7f0e" fill-opacity="0.5" stroke="#000" stroke-opacity="0.85" stroke-width="0.8"/><polyline fill="none" stroke="#9467bd" stroke-width="1.7" stroke-linejoin="round" points="64.0,168.0 78.9,152.8 121.6,149.8"/><circle cx="64.0" cy="168.0" r="2.75" fill="#9467bd" fill-opacity="0.5" stroke="#000" stroke-opacity="0.85" stroke-width="0.8"/><circle cx="78.9" cy="152.8" r="2.75" fill="#9467bd" fill-opacity="0.5" stroke="#000" stroke-opacity="0.85" stroke-width="0.8"/><circle cx="121.6" cy="149.8" r="2.75" fill="#9467bd" fill-opacity="0.5" stroke="#000" stroke-opacity="0.85" stroke-width="0.8"/><polyline fill="none" stroke="#2ca02c" stroke-width="1.7" stroke-linejoin="round" points="64.0,173.6 78.9,127.6 121.6,126.5"/><circle cx="64.0" cy="173.6" r="2.75" fill="#2ca02c" fill-opacity="0.5" stroke="#000" stroke-opacity="0.85" stroke-width="0.8"/><circle cx="78.9" cy="127.6" r="2.75" fill="#2ca02c" fill-opacity="0.5" stroke="#000" stroke-opacity="0.85" stroke-width="0.8"/><circle cx="121.6" cy="126.5" r="2.75" fill="#2ca02c" fill-opacity="0.5" stroke="#000" stroke-opacity="0.85" stroke-width="0.8"/><polyline fill="none" stroke="#17becf" stroke-width="1.7" stroke-linejoin="round" points="35.5,151.2 49.8,142.1 64.0,165.0 78.9,156.3 121.6,137.1"/><circle cx="35.5" cy="151.2" r="2.75" fill="#17becf" fill-opacity="0.5" stroke="#000" stroke-opacity="0.85" stroke-width="0.8"/><circle cx="49.8" cy="142.1" r="2.75" fill="#17becf" fill-opacity="0.5" stroke="#000" stroke-opacity="0.85" stroke-width="0.8"/><circle cx="64.0" cy="165.0" r="2.75" fill="#17becf" fill-opacity="0.5" stroke="#000" stroke-opacity="0.85" stroke-width="0.8"/><circle cx="78.9" cy="156.3" r="2.75" fill="#17becf" fill-opacity="0.5" stroke="#000" stroke-opacity="0.85" stroke-width="0.8"/><circle cx="121.6" cy="137.1" r="2.75" fill="#17becf" fill-opacity="0.5" stroke="#000" stroke-opacity="0.85" stroke-width="0.8"/><polyline fill="none" stroke="#1f77b4" stroke-width="1.7" stroke-linejoin="round" points="35.7,133.2 50.0,134.6 64.2,132.6 79.1,135.0 121.8,133.6"/><circle cx="35.7" cy="133.2" r="2.75" fill="#1f77b4" fill-opacity="0.5" stroke="#000" stroke-opacity="0.85" stroke-width="0.8"/><circle cx="50.0" cy="134.6" r="2.75" fill="#1f77b4" fill-opacity="0.5" stroke="#000" stroke-opacity="0.85" stroke-width="0.8"/><circle cx="64.2" cy="132.6" r="2.75" fill="#1f77b4" fill-opacity="0.5" stroke="#000" stroke-opacity="0.85" stroke-width="0.8"/><circle cx="79.1" cy="135.0" r="2.75" fill="#1f77b4" fill-opacity="0.5" stroke="#000" stroke-opacity="0.85" stroke-width="0.8"/><circle cx="121.8" cy="133.6" r="2.75" fill="#1f77b4" fill-opacity="0.5" stroke="#000" stroke-opacity="0.85" stroke-width="0.8"/></g>
<rect x="31" y="119.0" width="96.5" height="91.0" fill="none" stroke="#000" stroke-width="1.1"/>
<clipPath id="cp11"><rect x="141.5" y="119.0" width="97.0" height="91.0"/></clipPath>
<line x1="139.7" y1="120.4" x2="141.5" y2="120.4" stroke="#000" stroke-width="1"/>
<line x1="139.7" y1="157.4" x2="141.5" y2="157.4" stroke="#000" stroke-width="1"/>
<line x1="139.7" y1="194.4" x2="141.5" y2="194.4" stroke="#000" stroke-width="1"/>
<line x1="143.0" y1="210" x2="143.0" y2="211.8" stroke="#000" stroke-width="1"/>
<line x1="190.0" y1="210" x2="190.0" y2="211.8" stroke="#000" stroke-width="1"/>
<line x1="237.0" y1="210" x2="237.0" y2="211.8" stroke="#000" stroke-width="1"/>
<line x1="157.1" y1="210" x2="157.1" y2="211.2" stroke="#000" stroke-opacity="0.5" stroke-width="0.5"/>
<line x1="165.4" y1="210" x2="165.4" y2="211.2" stroke="#000" stroke-opacity="0.5" stroke-width="0.5"/>
<line x1="171.3" y1="210" x2="171.3" y2="211.2" stroke="#000" stroke-opacity="0.5" stroke-width="0.5"/>
<line x1="175.9" y1="210" x2="175.9" y2="211.2" stroke="#000" stroke-opacity="0.5" stroke-width="0.5"/>
<line x1="179.6" y1="210" x2="179.6" y2="211.2" stroke="#000" stroke-opacity="0.5" stroke-width="0.5"/>
<line x1="182.7" y1="210" x2="182.7" y2="211.2" stroke="#000" stroke-opacity="0.5" stroke-width="0.5"/>
<line x1="185.4" y1="210" x2="185.4" y2="211.2" stroke="#000" stroke-opacity="0.5" stroke-width="0.5"/>
<line x1="187.8" y1="210" x2="187.8" y2="211.2" stroke="#000" stroke-opacity="0.5" stroke-width="0.5"/>
<line x1="204.1" y1="210" x2="204.1" y2="211.2" stroke="#000" stroke-opacity="0.5" stroke-width="0.5"/>
<line x1="212.4" y1="210" x2="212.4" y2="211.2" stroke="#000" stroke-opacity="0.5" stroke-width="0.5"/>
<line x1="218.3" y1="210" x2="218.3" y2="211.2" stroke="#000" stroke-opacity="0.5" stroke-width="0.5"/>
<line x1="222.9" y1="210" x2="222.9" y2="211.2" stroke="#000" stroke-opacity="0.5" stroke-width="0.5"/>
<line x1="226.6" y1="210" x2="226.6" y2="211.2" stroke="#000" stroke-opacity="0.5" stroke-width="0.5"/>
<line x1="229.7" y1="210" x2="229.7" y2="211.2" stroke="#000" stroke-opacity="0.5" stroke-width="0.5"/>
<line x1="232.4" y1="210" x2="232.4" y2="211.2" stroke="#000" stroke-opacity="0.5" stroke-width="0.5"/>
<line x1="234.8" y1="210" x2="234.8" y2="211.2" stroke="#000" stroke-opacity="0.5" stroke-width="0.5"/>
<g clip-path="url(#cp11)"><polyline fill="none" stroke="#d62728" stroke-width="1.7" stroke-linejoin="round" points="146.1,133.6 160.8,133.6 175.4,133.6 190.0,133.6 233.0,134.6"/><circle cx="146.1" cy="133.6" r="2.75" fill="#d62728" fill-opacity="0.5" stroke="#000" stroke-opacity="0.85" stroke-width="0.8"/><circle cx="160.8" cy="133.6" r="2.75" fill="#d62728" fill-opacity="0.5" stroke="#000" stroke-opacity="0.85" stroke-width="0.8"/><circle cx="175.4" cy="133.6" r="2.75" fill="#d62728" fill-opacity="0.5" stroke="#000" stroke-opacity="0.85" stroke-width="0.8"/><circle cx="190.0" cy="133.6" r="2.75" fill="#d62728" fill-opacity="0.5" stroke="#000" stroke-opacity="0.85" stroke-width="0.8"/><circle cx="233.0" cy="134.6" r="2.75" fill="#d62728" fill-opacity="0.5" stroke="#000" stroke-opacity="0.85" stroke-width="0.8"/><polyline fill="none" stroke="#ff7f0e" stroke-width="1.7" stroke-linejoin="round" points="146.1,139.3 160.8,133.6 175.4,135.0 190.0,137.3 233.0,132.6"/><circle cx="146.1" cy="139.3" r="2.75" fill="#ff7f0e" fill-opacity="0.5" stroke="#000" stroke-opacity="0.85" stroke-width="0.8"/><circle cx="160.8" cy="133.6" r="2.75" fill="#ff7f0e" fill-opacity="0.5" stroke="#000" stroke-opacity="0.85" stroke-width="0.8"/><circle cx="175.4" cy="135.0" r="2.75" fill="#ff7f0e" fill-opacity="0.5" stroke="#000" stroke-opacity="0.85" stroke-width="0.8"/><circle cx="190.0" cy="137.3" r="2.75" fill="#ff7f0e" fill-opacity="0.5" stroke="#000" stroke-opacity="0.85" stroke-width="0.8"/><circle cx="233.0" cy="132.6" r="2.75" fill="#ff7f0e" fill-opacity="0.5" stroke="#000" stroke-opacity="0.85" stroke-width="0.8"/><polyline fill="none" stroke="#9467bd" stroke-width="1.7" stroke-linejoin="round" points="146.1,166.0 175.4,160.3 190.0,159.5 233.0,146.8"/><circle cx="146.1" cy="166.0" r="2.75" fill="#9467bd" fill-opacity="0.5" stroke="#000" stroke-opacity="0.85" stroke-width="0.8"/><circle cx="175.4" cy="160.3" r="2.75" fill="#9467bd" fill-opacity="0.5" stroke="#000" stroke-opacity="0.85" stroke-width="0.8"/><circle cx="190.0" cy="159.5" r="2.75" fill="#9467bd" fill-opacity="0.5" stroke="#000" stroke-opacity="0.85" stroke-width="0.8"/><circle cx="233.0" cy="146.8" r="2.75" fill="#9467bd" fill-opacity="0.5" stroke="#000" stroke-opacity="0.85" stroke-width="0.8"/><polyline fill="none" stroke="#2ca02c" stroke-width="1.7" stroke-linejoin="round" points="175.4,132.0 190.0,132.0 233.0,131.2"/><circle cx="175.4" cy="132.0" r="2.75" fill="#2ca02c" fill-opacity="0.5" stroke="#000" stroke-opacity="0.85" stroke-width="0.8"/><circle cx="190.0" cy="132.0" r="2.75" fill="#2ca02c" fill-opacity="0.5" stroke="#000" stroke-opacity="0.85" stroke-width="0.8"/><circle cx="233.0" cy="131.2" r="2.75" fill="#2ca02c" fill-opacity="0.5" stroke="#000" stroke-opacity="0.85" stroke-width="0.8"/><polyline fill="none" stroke="#17becf" stroke-width="1.7" stroke-linejoin="round" points="146.1,166.0 175.4,169.4 190.0,152.8 233.0,152.8"/><circle cx="146.1" cy="166.0" r="2.75" fill="#17becf" fill-opacity="0.5" stroke="#000" stroke-opacity="0.85" stroke-width="0.8"/><circle cx="175.4" cy="169.4" r="2.75" fill="#17becf" fill-opacity="0.5" stroke="#000" stroke-opacity="0.85" stroke-width="0.8"/><circle cx="190.0" cy="152.8" r="2.75" fill="#17becf" fill-opacity="0.5" stroke="#000" stroke-opacity="0.85" stroke-width="0.8"/><circle cx="233.0" cy="152.8" r="2.75" fill="#17becf" fill-opacity="0.5" stroke="#000" stroke-opacity="0.85" stroke-width="0.8"/><polyline fill="none" stroke="#1f77b4" stroke-width="1.7" stroke-linejoin="round" points="146.3,132.6 161.0,132.2 175.6,132.2 190.2,133.0 233.2,132.2"/><circle cx="146.3" cy="132.6" r="2.75" fill="#1f77b4" fill-opacity="0.5" stroke="#000" stroke-opacity="0.85" stroke-width="0.8"/><circle cx="161.0" cy="132.2" r="2.75" fill="#1f77b4" fill-opacity="0.5" stroke="#000" stroke-opacity="0.85" stroke-width="0.8"/><circle cx="175.6" cy="132.2" r="2.75" fill="#1f77b4" fill-opacity="0.5" stroke="#000" stroke-opacity="0.85" stroke-width="0.8"/><circle cx="190.2" cy="133.0" r="2.75" fill="#1f77b4" fill-opacity="0.5" stroke="#000" stroke-opacity="0.85" stroke-width="0.8"/><circle cx="233.2" cy="132.2" r="2.75" fill="#1f77b4" fill-opacity="0.5" stroke="#000" stroke-opacity="0.85" stroke-width="0.8"/></g>
<rect x="141.5" y="119.0" width="97.0" height="91.0" fill="none" stroke="#000" stroke-width="1.1"/>
<clipPath id="cp12"><rect x="252.5" y="119.0" width="97.0" height="91.0"/></clipPath>
<line x1="250.7" y1="120.4" x2="252.5" y2="120.4" stroke="#000" stroke-width="1"/>
<line x1="250.7" y1="157.4" x2="252.5" y2="157.4" stroke="#000" stroke-width="1"/>
<line x1="250.7" y1="194.4" x2="252.5" y2="194.4" stroke="#000" stroke-width="1"/>
<line x1="309.2" y1="210" x2="309.2" y2="211.8" stroke="#000" stroke-width="1"/>
<line x1="268.3" y1="210" x2="268.3" y2="211.2" stroke="#000" stroke-opacity="0.5" stroke-width="0.5"/>
<line x1="278.6" y1="210" x2="278.6" y2="211.2" stroke="#000" stroke-opacity="0.5" stroke-width="0.5"/>
<line x1="285.9" y1="210" x2="285.9" y2="211.2" stroke="#000" stroke-opacity="0.5" stroke-width="0.5"/>
<line x1="291.6" y1="210" x2="291.6" y2="211.2" stroke="#000" stroke-opacity="0.5" stroke-width="0.5"/>
<line x1="296.2" y1="210" x2="296.2" y2="211.2" stroke="#000" stroke-opacity="0.5" stroke-width="0.5"/>
<line x1="300.1" y1="210" x2="300.1" y2="211.2" stroke="#000" stroke-opacity="0.5" stroke-width="0.5"/>
<line x1="303.5" y1="210" x2="303.5" y2="211.2" stroke="#000" stroke-opacity="0.5" stroke-width="0.5"/>
<line x1="306.5" y1="210" x2="306.5" y2="211.2" stroke="#000" stroke-opacity="0.5" stroke-width="0.5"/>
<line x1="326.8" y1="210" x2="326.8" y2="211.2" stroke="#000" stroke-opacity="0.5" stroke-width="0.5"/>
<line x1="337.1" y1="210" x2="337.1" y2="211.2" stroke="#000" stroke-opacity="0.5" stroke-width="0.5"/>
<line x1="344.4" y1="210" x2="344.4" y2="211.2" stroke="#000" stroke-opacity="0.5" stroke-width="0.5"/>
<g clip-path="url(#cp12)"><polyline fill="none" stroke="#d62728" stroke-width="1.7" stroke-linejoin="round" points="257.1,136.7 274.7,137.7 291.9,136.7 309.0,140.1 344.0,140.1"/><circle cx="257.1" cy="136.7" r="2.75" fill="#d62728" fill-opacity="0.5" stroke="#000" stroke-opacity="0.85" stroke-width="0.8"/><circle cx="274.7" cy="137.7" r="2.75" fill="#d62728" fill-opacity="0.5" stroke="#000" stroke-opacity="0.85" stroke-width="0.8"/><circle cx="291.9" cy="136.7" r="2.75" fill="#d62728" fill-opacity="0.5" stroke="#000" stroke-opacity="0.85" stroke-width="0.8"/><circle cx="309.0" cy="140.1" r="2.75" fill="#d62728" fill-opacity="0.5" stroke="#000" stroke-opacity="0.85" stroke-width="0.8"/><circle cx="344.0" cy="140.1" r="2.75" fill="#d62728" fill-opacity="0.5" stroke="#000" stroke-opacity="0.85" stroke-width="0.8"/><polyline fill="none" stroke="#ff7f0e" stroke-width="1.7" stroke-linejoin="round" points="257.1,141.7 274.7,140.1 291.9,134.2 309.0,133.6 344.0,134.6"/><circle cx="257.1" cy="141.7" r="2.75" fill="#ff7f0e" fill-opacity="0.5" stroke="#000" stroke-opacity="0.85" stroke-width="0.8"/><circle cx="274.7" cy="140.1" r="2.75" fill="#ff7f0e" fill-opacity="0.5" stroke="#000" stroke-opacity="0.85" stroke-width="0.8"/><circle cx="291.9" cy="134.2" r="2.75" fill="#ff7f0e" fill-opacity="0.5" stroke="#000" stroke-opacity="0.85" stroke-width="0.8"/><circle cx="309.0" cy="133.6" r="2.75" fill="#ff7f0e" fill-opacity="0.5" stroke="#000" stroke-opacity="0.85" stroke-width="0.8"/><circle cx="344.0" cy="134.6" r="2.75" fill="#ff7f0e" fill-opacity="0.5" stroke="#000" stroke-opacity="0.85" stroke-width="0.8"/><polyline fill="none" stroke="#9467bd" stroke-width="1.7" stroke-linejoin="round" points="257.1,189.6 291.9,184.8 309.0,169.0 344.0,149.2"/><circle cx="257.1" cy="189.6" r="2.75" fill="#9467bd" fill-opacity="0.5" stroke="#000" stroke-opacity="0.85" stroke-width="0.8"/><circle cx="291.9" cy="184.8" r="2.75" fill="#9467bd" fill-opacity="0.5" stroke="#000" stroke-opacity="0.85" stroke-width="0.8"/><circle cx="309.0" cy="169.0" r="2.75" fill="#9467bd" fill-opacity="0.5" stroke="#000" stroke-opacity="0.85" stroke-width="0.8"/><circle cx="344.0" cy="149.2" r="2.75" fill="#9467bd" fill-opacity="0.5" stroke="#000" stroke-opacity="0.85" stroke-width="0.8"/><polyline fill="none" stroke="#2ca02c" stroke-width="1.7" stroke-linejoin="round" points="291.9,130.2 309.0,127.6 344.0,127.2"/><circle cx="291.9" cy="130.2" r="2.75" fill="#2ca02c" fill-opacity="0.5" stroke="#000" stroke-opacity="0.85" stroke-width="0.8"/><circle cx="309.0" cy="127.6" r="2.75" fill="#2ca02c" fill-opacity="0.5" stroke="#000" stroke-opacity="0.85" stroke-width="0.8"/><circle cx="344.0" cy="127.2" r="2.75" fill="#2ca02c" fill-opacity="0.5" stroke="#000" stroke-opacity="0.85" stroke-width="0.8"/><polyline fill="none" stroke="#17becf" stroke-width="1.7" stroke-linejoin="round" points="257.1,181.1 274.7,157.9 291.9,146.4 344.0,141.1"/><circle cx="257.1" cy="181.1" r="2.75" fill="#17becf" fill-opacity="0.5" stroke="#000" stroke-opacity="0.85" stroke-width="0.8"/><circle cx="274.7" cy="157.9" r="2.75" fill="#17becf" fill-opacity="0.5" stroke="#000" stroke-opacity="0.85" stroke-width="0.8"/><circle cx="291.9" cy="146.4" r="2.75" fill="#17becf" fill-opacity="0.5" stroke="#000" stroke-opacity="0.85" stroke-width="0.8"/><circle cx="344.0" cy="141.1" r="2.75" fill="#17becf" fill-opacity="0.5" stroke="#000" stroke-opacity="0.85" stroke-width="0.8"/><polyline fill="none" stroke="#1f77b4" stroke-width="1.7" stroke-linejoin="round" points="257.3,140.7 274.9,142.7 292.1,141.3 309.2,140.7 344.2,141.7"/><circle cx="257.3" cy="140.7" r="2.75" fill="#1f77b4" fill-opacity="0.5" stroke="#000" stroke-opacity="0.85" stroke-width="0.8"/><circle cx="274.9" cy="142.7" r="2.75" fill="#1f77b4" fill-opacity="0.5" stroke="#000" stroke-opacity="0.85" stroke-width="0.8"/><circle cx="292.1" cy="141.3" r="2.75" fill="#1f77b4" fill-opacity="0.5" stroke="#000" stroke-opacity="0.85" stroke-width="0.8"/><circle cx="309.2" cy="140.7" r="2.75" fill="#1f77b4" fill-opacity="0.5" stroke="#000" stroke-opacity="0.85" stroke-width="0.8"/><circle cx="344.2" cy="141.7" r="2.75" fill="#1f77b4" fill-opacity="0.5" stroke="#000" stroke-opacity="0.85" stroke-width="0.8"/></g>
<rect x="252.5" y="119.0" width="97.0" height="91.0" fill="none" stroke="#000" stroke-width="1.1"/>
<clipPath id="cp13"><rect x="363.5" y="119.0" width="97.0" height="91.0"/></clipPath>
<line x1="361.7" y1="120.4" x2="363.5" y2="120.4" stroke="#000" stroke-width="1"/>
<line x1="361.7" y1="157.4" x2="363.5" y2="157.4" stroke="#000" stroke-width="1"/>
<line x1="361.7" y1="194.4" x2="363.5" y2="194.4" stroke="#000" stroke-width="1"/>
<line x1="368.1" y1="210" x2="368.1" y2="211.8" stroke="#000" stroke-width="1"/>
<line x1="396.4" y1="210" x2="396.4" y2="211.8" stroke="#000" stroke-width="1"/>
<line x1="424.5" y1="210" x2="424.5" y2="211.8" stroke="#000" stroke-width="1"/>
<line x1="452.6" y1="210" x2="452.6" y2="211.8" stroke="#000" stroke-width="1"/>
<g clip-path="url(#cp13)"><polyline fill="none" stroke="#d62728" stroke-width="1.7" stroke-linejoin="round" points="368.1,170.4 396.4,148.8 424.7,142.7 452.6,142.1"/><circle cx="368.1" cy="170.4" r="2.75" fill="#d62728" fill-opacity="0.5" stroke="#000" stroke-opacity="0.85" stroke-width="0.8"/><circle cx="396.4" cy="148.8" r="2.75" fill="#d62728" fill-opacity="0.5" stroke="#000" stroke-opacity="0.85" stroke-width="0.8"/><circle cx="424.7" cy="142.7" r="2.75" fill="#d62728" fill-opacity="0.5" stroke="#000" stroke-opacity="0.85" stroke-width="0.8"/><circle cx="452.6" cy="142.1" r="2.75" fill="#d62728" fill-opacity="0.5" stroke="#000" stroke-opacity="0.85" stroke-width="0.8"/><polyline fill="none" stroke="#ff7f0e" stroke-width="1.7" stroke-linejoin="round" points="368.1,152.4 396.4,144.3 424.7,186.2 452.6,135.6"/><circle cx="368.1" cy="152.4" r="2.75" fill="#ff7f0e" fill-opacity="0.5" stroke="#000" stroke-opacity="0.85" stroke-width="0.8"/><circle cx="396.4" cy="144.3" r="2.75" fill="#ff7f0e" fill-opacity="0.5" stroke="#000" stroke-opacity="0.85" stroke-width="0.8"/><circle cx="424.7" cy="186.2" r="2.75" fill="#ff7f0e" fill-opacity="0.5" stroke="#000" stroke-opacity="0.85" stroke-width="0.8"/><circle cx="452.6" cy="135.6" r="2.75" fill="#ff7f0e" fill-opacity="0.5" stroke="#000" stroke-opacity="0.85" stroke-width="0.8"/><circle cx="452.6" cy="158.9" r="2.75" fill="#9467bd" fill-opacity="0.5" stroke="#000" stroke-opacity="0.85" stroke-width="0.8"/><polyline fill="none" stroke="#2ca02c" stroke-width="1.7" stroke-linejoin="round" points="424.7,128.0 452.6,128.0"/><circle cx="424.7" cy="128.0" r="2.75" fill="#2ca02c" fill-opacity="0.5" stroke="#000" stroke-opacity="0.85" stroke-width="0.8"/><circle cx="452.6" cy="128.0" r="2.75" fill="#2ca02c" fill-opacity="0.5" stroke="#000" stroke-opacity="0.85" stroke-width="0.8"/><polyline fill="none" stroke="#17becf" stroke-width="1.7" stroke-linejoin="round" points="368.1,165.4 396.4,150.8 424.7,154.2 452.6,163.5"/><circle cx="368.1" cy="165.4" r="2.75" fill="#17becf" fill-opacity="0.5" stroke="#000" stroke-opacity="0.85" stroke-width="0.8"/><circle cx="396.4" cy="150.8" r="2.75" fill="#17becf" fill-opacity="0.5" stroke="#000" stroke-opacity="0.85" stroke-width="0.8"/><circle cx="424.7" cy="154.2" r="2.75" fill="#17becf" fill-opacity="0.5" stroke="#000" stroke-opacity="0.85" stroke-width="0.8"/><circle cx="452.6" cy="163.5" r="2.75" fill="#17becf" fill-opacity="0.5" stroke="#000" stroke-opacity="0.85" stroke-width="0.8"/><polyline fill="none" stroke="#1f77b4" stroke-width="1.7" stroke-linejoin="round" points="371.1,142.3 399.4,135.6 427.7,135.6 455.6,134.6"/><circle cx="371.1" cy="142.3" r="2.75" fill="#1f77b4" fill-opacity="0.5" stroke="#000" stroke-opacity="0.85" stroke-width="0.8"/><circle cx="399.4" cy="135.6" r="2.75" fill="#1f77b4" fill-opacity="0.5" stroke="#000" stroke-opacity="0.85" stroke-width="0.8"/><circle cx="427.7" cy="135.6" r="2.75" fill="#1f77b4" fill-opacity="0.5" stroke="#000" stroke-opacity="0.85" stroke-width="0.8"/><circle cx="455.6" cy="134.6" r="2.75" fill="#1f77b4" fill-opacity="0.5" stroke="#000" stroke-opacity="0.85" stroke-width="0.8"/></g>
<rect x="363.5" y="119.0" width="97.0" height="91.0" fill="none" stroke="#000" stroke-width="1.1"/>
<clipPath id="cp14"><rect x="474.5" y="119.0" width="97.0" height="91.0"/></clipPath>
<line x1="472.7" y1="120.4" x2="474.5" y2="120.4" stroke="#000" stroke-width="1"/>
<line x1="472.7" y1="157.4" x2="474.5" y2="157.4" stroke="#000" stroke-width="1"/>
<line x1="472.7" y1="194.4" x2="474.5" y2="194.4" stroke="#000" stroke-width="1"/>
<line x1="479.1" y1="210" x2="479.1" y2="211.8" stroke="#000" stroke-width="1"/>
<line x1="507.2" y1="210" x2="507.2" y2="211.8" stroke="#000" stroke-width="1"/>
<line x1="535.4" y1="210" x2="535.4" y2="211.8" stroke="#000" stroke-width="1"/>
<line x1="563.6" y1="210" x2="563.6" y2="211.8" stroke="#000" stroke-width="1"/>
<g clip-path="url(#cp14)"><polyline fill="none" stroke="#d62728" stroke-width="1.7" stroke-linejoin="round" points="479.1,161.5 507.4,150.8 535.3,133.6 563.6,134.6"/><circle cx="479.1" cy="161.5" r="2.75" fill="#d62728" fill-opacity="0.5" stroke="#000" stroke-opacity="0.85" stroke-width="0.8"/><circle cx="507.4" cy="150.8" r="2.75" fill="#d62728" fill-opacity="0.5" stroke="#000" stroke-opacity="0.85" stroke-width="0.8"/><circle cx="535.3" cy="133.6" r="2.75" fill="#d62728" fill-opacity="0.5" stroke="#000" stroke-opacity="0.85" stroke-width="0.8"/><circle cx="563.6" cy="134.6" r="2.75" fill="#d62728" fill-opacity="0.5" stroke="#000" stroke-opacity="0.85" stroke-width="0.8"/><polyline fill="none" stroke="#ff7f0e" stroke-width="1.7" stroke-linejoin="round" points="479.1,155.5 507.4,132.0 535.3,132.6 563.6,131.2"/><circle cx="479.1" cy="155.5" r="2.75" fill="#ff7f0e" fill-opacity="0.5" stroke="#000" stroke-opacity="0.85" stroke-width="0.8"/><circle cx="507.4" cy="132.0" r="2.75" fill="#ff7f0e" fill-opacity="0.5" stroke="#000" stroke-opacity="0.85" stroke-width="0.8"/><circle cx="535.3" cy="132.6" r="2.75" fill="#ff7f0e" fill-opacity="0.5" stroke="#000" stroke-opacity="0.85" stroke-width="0.8"/><circle cx="563.6" cy="131.2" r="2.75" fill="#ff7f0e" fill-opacity="0.5" stroke="#000" stroke-opacity="0.85" stroke-width="0.8"/><polyline fill="none" stroke="#9467bd" stroke-width="1.7" stroke-linejoin="round" points="507.4,175.7 535.3,153.4 563.6,166.4"/><circle cx="507.4" cy="175.7" r="2.75" fill="#9467bd" fill-opacity="0.5" stroke="#000" stroke-opacity="0.85" stroke-width="0.8"/><circle cx="535.3" cy="153.4" r="2.75" fill="#9467bd" fill-opacity="0.5" stroke="#000" stroke-opacity="0.85" stroke-width="0.8"/><circle cx="563.6" cy="166.4" r="2.75" fill="#9467bd" fill-opacity="0.5" stroke="#000" stroke-opacity="0.85" stroke-width="0.8"/><polyline fill="none" stroke="#2ca02c" stroke-width="1.7" stroke-linejoin="round" points="535.3,127.0 563.6,127.2"/><circle cx="535.3" cy="127.0" r="2.75" fill="#2ca02c" fill-opacity="0.5" stroke="#000" stroke-opacity="0.85" stroke-width="0.8"/><circle cx="563.6" cy="127.2" r="2.75" fill="#2ca02c" fill-opacity="0.5" stroke="#000" stroke-opacity="0.85" stroke-width="0.8"/><polyline fill="none" stroke="#17becf" stroke-width="1.7" stroke-linejoin="round" points="535.3,147.4 563.6,152.8"/><circle cx="535.3" cy="147.4" r="2.75" fill="#17becf" fill-opacity="0.5" stroke="#000" stroke-opacity="0.85" stroke-width="0.8"/><circle cx="563.6" cy="152.8" r="2.75" fill="#17becf" fill-opacity="0.5" stroke="#000" stroke-opacity="0.85" stroke-width="0.8"/><polyline fill="none" stroke="#1f77b4" stroke-width="1.7" stroke-linejoin="round" points="482.1,132.2 510.4,135.0 538.3,133.2 566.6,133.0"/><circle cx="482.1" cy="132.2" r="2.75" fill="#1f77b4" fill-opacity="0.5" stroke="#000" stroke-opacity="0.85" stroke-width="0.8"/><circle cx="510.4" cy="135.0" r="2.75" fill="#1f77b4" fill-opacity="0.5" stroke="#000" stroke-opacity="0.85" stroke-width="0.8"/><circle cx="538.3" cy="133.2" r="2.75" fill="#1f77b4" fill-opacity="0.5" stroke="#000" stroke-opacity="0.85" stroke-width="0.8"/><circle cx="566.6" cy="133.0" r="2.75" fill="#1f77b4" fill-opacity="0.5" stroke="#000" stroke-opacity="0.85" stroke-width="0.8"/></g>
<rect x="474.5" y="119.0" width="97.0" height="91.0" fill="none" stroke="#000" stroke-width="1.1"/>
<clipPath id="cp15"><rect x="585.5" y="119.0" width="95.0" height="91.0"/></clipPath>
<line x1="583.7" y1="120.4" x2="585.5" y2="120.4" stroke="#000" stroke-width="1"/>
<line x1="583.7" y1="157.4" x2="585.5" y2="157.4" stroke="#000" stroke-width="1"/>
<line x1="583.7" y1="194.4" x2="585.5" y2="194.4" stroke="#000" stroke-width="1"/>
<line x1="590.1" y1="210" x2="590.1" y2="211.8" stroke="#000" stroke-width="1"/>
<line x1="618.3" y1="210" x2="618.3" y2="211.8" stroke="#000" stroke-width="1"/>
<line x1="646.5" y1="210" x2="646.5" y2="211.8" stroke="#000" stroke-width="1"/>
<line x1="674.6" y1="210" x2="674.6" y2="211.8" stroke="#000" stroke-width="1"/>
<g clip-path="url(#cp15)"><polyline fill="none" stroke="#d62728" stroke-width="1.7" stroke-linejoin="round" points="590.1,137.3 618.4,135.6 646.7,135.2 674.6,137.3"/><circle cx="590.1" cy="137.3" r="2.75" fill="#d62728" fill-opacity="0.5" stroke="#000" stroke-opacity="0.85" stroke-width="0.8"/><circle cx="618.4" cy="135.6" r="2.75" fill="#d62728" fill-opacity="0.5" stroke="#000" stroke-opacity="0.85" stroke-width="0.8"/><circle cx="646.7" cy="135.2" r="2.75" fill="#d62728" fill-opacity="0.5" stroke="#000" stroke-opacity="0.85" stroke-width="0.8"/><circle cx="674.6" cy="137.3" r="2.75" fill="#d62728" fill-opacity="0.5" stroke="#000" stroke-opacity="0.85" stroke-width="0.8"/><polyline fill="none" stroke="#ff7f0e" stroke-width="1.7" stroke-linejoin="round" points="590.1,201.7 618.4,140.1 646.7,135.0 674.6,133.6"/><circle cx="590.1" cy="201.7" r="2.75" fill="#ff7f0e" fill-opacity="0.5" stroke="#000" stroke-opacity="0.85" stroke-width="0.8"/><circle cx="618.4" cy="140.1" r="2.75" fill="#ff7f0e" fill-opacity="0.5" stroke="#000" stroke-opacity="0.85" stroke-width="0.8"/><circle cx="646.7" cy="135.0" r="2.75" fill="#ff7f0e" fill-opacity="0.5" stroke="#000" stroke-opacity="0.85" stroke-width="0.8"/><circle cx="674.6" cy="133.6" r="2.75" fill="#ff7f0e" fill-opacity="0.5" stroke="#000" stroke-opacity="0.85" stroke-width="0.8"/><polyline fill="none" stroke="#9467bd" stroke-width="1.7" stroke-linejoin="round" points="646.7,171.0 674.6,177.1"/><circle cx="646.7" cy="171.0" r="2.75" fill="#9467bd" fill-opacity="0.5" stroke="#000" stroke-opacity="0.85" stroke-width="0.8"/><circle cx="674.6" cy="177.1" r="2.75" fill="#9467bd" fill-opacity="0.5" stroke="#000" stroke-opacity="0.85" stroke-width="0.8"/><polyline fill="none" stroke="#2ca02c" stroke-width="1.7" stroke-linejoin="round" points="646.7,127.6 674.6,127.6"/><circle cx="646.7" cy="127.6" r="2.75" fill="#2ca02c" fill-opacity="0.5" stroke="#000" stroke-opacity="0.85" stroke-width="0.8"/><circle cx="674.6" cy="127.6" r="2.75" fill="#2ca02c" fill-opacity="0.5" stroke="#000" stroke-opacity="0.85" stroke-width="0.8"/><polyline fill="none" stroke="#17becf" stroke-width="1.7" stroke-linejoin="round" points="590.1,157.9 618.4,185.8 646.7,146.8 674.6,142.7"/><circle cx="590.1" cy="157.9" r="2.75" fill="#17becf" fill-opacity="0.5" stroke="#000" stroke-opacity="0.85" stroke-width="0.8"/><circle cx="618.4" cy="185.8" r="2.75" fill="#17becf" fill-opacity="0.5" stroke="#000" stroke-opacity="0.85" stroke-width="0.8"/><circle cx="646.7" cy="146.8" r="2.75" fill="#17becf" fill-opacity="0.5" stroke="#000" stroke-opacity="0.85" stroke-width="0.8"/><circle cx="674.6" cy="142.7" r="2.75" fill="#17becf" fill-opacity="0.5" stroke="#000" stroke-opacity="0.85" stroke-width="0.8"/><polyline fill="none" stroke="#1f77b4" stroke-width="1.7" stroke-linejoin="round" points="592.7,143.7 621.0,146.2 649.3,146.2 677.2,141.3"/><circle cx="592.7" cy="143.7" r="2.75" fill="#1f77b4" fill-opacity="0.5" stroke="#000" stroke-opacity="0.85" stroke-width="0.8"/><circle cx="621.0" cy="146.2" r="2.75" fill="#1f77b4" fill-opacity="0.5" stroke="#000" stroke-opacity="0.85" stroke-width="0.8"/><circle cx="649.3" cy="146.2" r="2.75" fill="#1f77b4" fill-opacity="0.5" stroke="#000" stroke-opacity="0.85" stroke-width="0.8"/><circle cx="677.2" cy="141.3" r="2.75" fill="#1f77b4" fill-opacity="0.5" stroke="#000" stroke-opacity="0.85" stroke-width="0.8"/></g>
<rect x="585.5" y="119.0" width="95.0" height="91.0" fill="none" stroke="#000" stroke-width="1.1"/>
<clipPath id="cp20"><rect x="31" y="219.4" width="96.5" height="90.29999999999998"/></clipPath>
<line x1="29.2" y1="221.4" x2="31" y2="221.4" stroke="#000" stroke-width="1"/>
<text transform="translate(28.2,225.3) scale(1,1.0)" font-size="9.4" text-anchor="end">1.0</text>
<line x1="29.2" y1="263.4" x2="31" y2="263.4" stroke="#000" stroke-width="1"/>
<text transform="translate(28.2,267.3) scale(1,1.0)" font-size="9.4" text-anchor="end">0.5</text>
<line x1="29.2" y1="305.3" x2="31" y2="305.3" stroke="#000" stroke-width="1"/>
<text transform="translate(28.2,309.2) scale(1,1.0)" font-size="9.4" text-anchor="end">0.0</text>
<line x1="31.9" y1="309.7" x2="31.9" y2="311.5" stroke="#000" stroke-width="1"/>
<line x1="80.2" y1="309.7" x2="80.2" y2="311.5" stroke="#000" stroke-width="1"/>
<line x1="46.4" y1="309.7" x2="46.4" y2="310.9" stroke="#000" stroke-opacity="0.5" stroke-width="0.5"/>
<line x1="54.9" y1="309.7" x2="54.9" y2="310.9" stroke="#000" stroke-opacity="0.5" stroke-width="0.5"/>
<line x1="61.0" y1="309.7" x2="61.0" y2="310.9" stroke="#000" stroke-opacity="0.5" stroke-width="0.5"/>
<line x1="65.7" y1="309.7" x2="65.7" y2="310.9" stroke="#000" stroke-opacity="0.5" stroke-width="0.5"/>
<line x1="69.5" y1="309.7" x2="69.5" y2="310.9" stroke="#000" stroke-opacity="0.5" stroke-width="0.5"/>
<line x1="72.7" y1="309.7" x2="72.7" y2="310.9" stroke="#000" stroke-opacity="0.5" stroke-width="0.5"/>
<line x1="75.5" y1="309.7" x2="75.5" y2="310.9" stroke="#000" stroke-opacity="0.5" stroke-width="0.5"/>
<line x1="78.0" y1="309.7" x2="78.0" y2="310.9" stroke="#000" stroke-opacity="0.5" stroke-width="0.5"/>
<line x1="94.7" y1="309.7" x2="94.7" y2="310.9" stroke="#000" stroke-opacity="0.5" stroke-width="0.5"/>
<line x1="103.2" y1="309.7" x2="103.2" y2="310.9" stroke="#000" stroke-opacity="0.5" stroke-width="0.5"/>
<line x1="109.3" y1="309.7" x2="109.3" y2="310.9" stroke="#000" stroke-opacity="0.5" stroke-width="0.5"/>
<line x1="114.0" y1="309.7" x2="114.0" y2="310.9" stroke="#000" stroke-opacity="0.5" stroke-width="0.5"/>
<line x1="117.8" y1="309.7" x2="117.8" y2="310.9" stroke="#000" stroke-opacity="0.5" stroke-width="0.5"/>
<line x1="121.0" y1="309.7" x2="121.0" y2="310.9" stroke="#000" stroke-opacity="0.5" stroke-width="0.5"/>
<line x1="123.8" y1="309.7" x2="123.8" y2="310.9" stroke="#000" stroke-opacity="0.5" stroke-width="0.5"/>
<line x1="126.3" y1="309.7" x2="126.3" y2="310.9" stroke="#000" stroke-opacity="0.5" stroke-width="0.5"/>
<g clip-path="url(#cp20)"><polyline fill="none" stroke="#d62728" stroke-width="1.7" stroke-linejoin="round" points="35.5,226.5 49.8,226.5 64.0,235.0 78.9,226.5 121.6,226.5"/><circle cx="35.5" cy="226.5" r="2.75" fill="#d62728" fill-opacity="0.5" stroke="#000" stroke-opacity="0.85" stroke-width="0.8"/><circle cx="49.8" cy="226.5" r="2.75" fill="#d62728" fill-opacity="0.5" stroke="#000" stroke-opacity="0.85" stroke-width="0.8"/><circle cx="64.0" cy="235.0" r="2.75" fill="#d62728" fill-opacity="0.5" stroke="#000" stroke-opacity="0.85" stroke-width="0.8"/><circle cx="78.9" cy="226.5" r="2.75" fill="#d62728" fill-opacity="0.5" stroke="#000" stroke-opacity="0.85" stroke-width="0.8"/><circle cx="121.6" cy="226.5" r="2.75" fill="#d62728" fill-opacity="0.5" stroke="#000" stroke-opacity="0.85" stroke-width="0.8"/><polyline fill="none" stroke="#ff7f0e" stroke-width="1.7" stroke-linejoin="round" points="35.5,298.3 49.8,298.9 64.0,242.1 78.9,275.7 121.6,291.8"/><circle cx="35.5" cy="298.3" r="2.75" fill="#ff7f0e" fill-opacity="0.5" stroke="#000" stroke-opacity="0.85" stroke-width="0.8"/><circle cx="49.8" cy="298.9" r="2.75" fill="#ff7f0e" fill-opacity="0.5" stroke="#000" stroke-opacity="0.85" stroke-width="0.8"/><circle cx="64.0" cy="242.1" r="2.75" fill="#ff7f0e" fill-opacity="0.5" stroke="#000" stroke-opacity="0.85" stroke-width="0.8"/><circle cx="78.9" cy="275.7" r="2.75" fill="#ff7f0e" fill-opacity="0.5" stroke="#000" stroke-opacity="0.85" stroke-width="0.8"/><circle cx="121.6" cy="291.8" r="2.75" fill="#ff7f0e" fill-opacity="0.5" stroke="#000" stroke-opacity="0.85" stroke-width="0.8"/><polyline fill="none" stroke="#9467bd" stroke-width="1.7" stroke-linejoin="round" points="35.5,305.8 49.8,305.8 64.0,295.7 78.9,275.7 121.6,279.7"/><circle cx="35.5" cy="305.8" r="2.75" fill="#9467bd" fill-opacity="0.5" stroke="#000" stroke-opacity="0.85" stroke-width="0.8"/><circle cx="49.8" cy="305.8" r="2.75" fill="#9467bd" fill-opacity="0.5" stroke="#000" stroke-opacity="0.85" stroke-width="0.8"/><circle cx="64.0" cy="295.7" r="2.75" fill="#9467bd" fill-opacity="0.5" stroke="#000" stroke-opacity="0.85" stroke-width="0.8"/><circle cx="78.9" cy="275.7" r="2.75" fill="#9467bd" fill-opacity="0.5" stroke="#000" stroke-opacity="0.85" stroke-width="0.8"/><circle cx="121.6" cy="279.7" r="2.75" fill="#9467bd" fill-opacity="0.5" stroke="#000" stroke-opacity="0.85" stroke-width="0.8"/><polyline fill="none" stroke="#2ca02c" stroke-width="1.7" stroke-linejoin="round" points="35.5,305.8 49.8,305.8 64.0,294.9 78.9,284.8 121.6,259.3"/><circle cx="35.5" cy="305.8" r="2.75" fill="#2ca02c" fill-opacity="0.5" stroke="#000" stroke-opacity="0.85" stroke-width="0.8"/><circle cx="49.8" cy="305.8" r="2.75" fill="#2ca02c" fill-opacity="0.5" stroke="#000" stroke-opacity="0.85" stroke-width="0.8"/><circle cx="64.0" cy="294.9" r="2.75" fill="#2ca02c" fill-opacity="0.5" stroke="#000" stroke-opacity="0.85" stroke-width="0.8"/><circle cx="78.9" cy="284.8" r="2.75" fill="#2ca02c" fill-opacity="0.5" stroke="#000" stroke-opacity="0.85" stroke-width="0.8"/><circle cx="121.6" cy="259.3" r="2.75" fill="#2ca02c" fill-opacity="0.5" stroke="#000" stroke-opacity="0.85" stroke-width="0.8"/><polyline fill="none" stroke="#17becf" stroke-width="1.7" stroke-linejoin="round" points="35.5,285.6 49.8,287.2 64.0,264.6 78.9,301.3 121.6,229.6"/><circle cx="35.5" cy="285.6" r="2.75" fill="#17becf" fill-opacity="0.5" stroke="#000" stroke-opacity="0.85" stroke-width="0.8"/><circle cx="49.8" cy="287.2" r="2.75" fill="#17becf" fill-opacity="0.5" stroke="#000" stroke-opacity="0.85" stroke-width="0.8"/><circle cx="64.0" cy="264.6" r="2.75" fill="#17becf" fill-opacity="0.5" stroke="#000" stroke-opacity="0.85" stroke-width="0.8"/><circle cx="78.9" cy="301.3" r="2.75" fill="#17becf" fill-opacity="0.5" stroke="#000" stroke-opacity="0.85" stroke-width="0.8"/><circle cx="121.6" cy="229.6" r="2.75" fill="#17becf" fill-opacity="0.5" stroke="#000" stroke-opacity="0.85" stroke-width="0.8"/><polyline fill="none" stroke="#1f77b4" stroke-width="1.7" stroke-linejoin="round" points="35.7,223.5 50.0,223.5 64.2,223.5 79.1,224.5 121.8,223.9"/><circle cx="35.7" cy="223.5" r="2.75" fill="#1f77b4" fill-opacity="0.5" stroke="#000" stroke-opacity="0.85" stroke-width="0.8"/><circle cx="50.0" cy="223.5" r="2.75" fill="#1f77b4" fill-opacity="0.5" stroke="#000" stroke-opacity="0.85" stroke-width="0.8"/><circle cx="64.2" cy="223.5" r="2.75" fill="#1f77b4" fill-opacity="0.5" stroke="#000" stroke-opacity="0.85" stroke-width="0.8"/><circle cx="79.1" cy="224.5" r="2.75" fill="#1f77b4" fill-opacity="0.5" stroke="#000" stroke-opacity="0.85" stroke-width="0.8"/><circle cx="121.8" cy="223.9" r="2.75" fill="#1f77b4" fill-opacity="0.5" stroke="#000" stroke-opacity="0.85" stroke-width="0.8"/></g>
<rect x="31" y="219.4" width="96.5" height="90.3" fill="none" stroke="#000" stroke-width="1.1"/>
<clipPath id="cp21"><rect x="141.5" y="219.4" width="97.0" height="90.29999999999998"/></clipPath>
<line x1="139.7" y1="221.4" x2="141.5" y2="221.4" stroke="#000" stroke-width="1"/>
<line x1="139.7" y1="263.4" x2="141.5" y2="263.4" stroke="#000" stroke-width="1"/>
<line x1="139.7" y1="305.3" x2="141.5" y2="305.3" stroke="#000" stroke-width="1"/>
<line x1="143.0" y1="309.7" x2="143.0" y2="311.5" stroke="#000" stroke-width="1"/>
<line x1="190.0" y1="309.7" x2="190.0" y2="311.5" stroke="#000" stroke-width="1"/>
<line x1="237.0" y1="309.7" x2="237.0" y2="311.5" stroke="#000" stroke-width="1"/>
<line x1="157.1" y1="309.7" x2="157.1" y2="310.9" stroke="#000" stroke-opacity="0.5" stroke-width="0.5"/>
<line x1="165.4" y1="309.7" x2="165.4" y2="310.9" stroke="#000" stroke-opacity="0.5" stroke-width="0.5"/>
<line x1="171.3" y1="309.7" x2="171.3" y2="310.9" stroke="#000" stroke-opacity="0.5" stroke-width="0.5"/>
<line x1="175.9" y1="309.7" x2="175.9" y2="310.9" stroke="#000" stroke-opacity="0.5" stroke-width="0.5"/>
<line x1="179.6" y1="309.7" x2="179.6" y2="310.9" stroke="#000" stroke-opacity="0.5" stroke-width="0.5"/>
<line x1="182.7" y1="309.7" x2="182.7" y2="310.9" stroke="#000" stroke-opacity="0.5" stroke-width="0.5"/>
<line x1="185.4" y1="309.7" x2="185.4" y2="310.9" stroke="#000" stroke-opacity="0.5" stroke-width="0.5"/>
<line x1="187.8" y1="309.7" x2="187.8" y2="310.9" stroke="#000" stroke-opacity="0.5" stroke-width="0.5"/>
<line x1="204.1" y1="309.7" x2="204.1" y2="310.9" stroke="#000" stroke-opacity="0.5" stroke-width="0.5"/>
<line x1="212.4" y1="309.7" x2="212.4" y2="310.9" stroke="#000" stroke-opacity="0.5" stroke-width="0.5"/>
<line x1="218.3" y1="309.7" x2="218.3" y2="310.9" stroke="#000" stroke-opacity="0.5" stroke-width="0.5"/>
<line x1="222.9" y1="309.7" x2="222.9" y2="310.9" stroke="#000" stroke-opacity="0.5" stroke-width="0.5"/>
<line x1="226.6" y1="309.7" x2="226.6" y2="310.9" stroke="#000" stroke-opacity="0.5" stroke-width="0.5"/>
<line x1="229.7" y1="309.7" x2="229.7" y2="310.9" stroke="#000" stroke-opacity="0.5" stroke-width="0.5"/>
<line x1="232.4" y1="309.7" x2="232.4" y2="310.9" stroke="#000" stroke-opacity="0.5" stroke-width="0.5"/>
<line x1="234.8" y1="309.7" x2="234.8" y2="310.9" stroke="#000" stroke-opacity="0.5" stroke-width="0.5"/>
<g clip-path="url(#cp21)"><polyline fill="none" stroke="#d62728" stroke-width="1.7" stroke-linejoin="round" points="146.1,226.5 160.8,226.5 175.4,226.5 190.0,226.5 233.0,226.5"/><circle cx="146.1" cy="226.5" r="2.75" fill="#d62728" fill-opacity="0.5" stroke="#000" stroke-opacity="0.85" stroke-width="0.8"/><circle cx="160.8" cy="226.5" r="2.75" fill="#d62728" fill-opacity="0.5" stroke="#000" stroke-opacity="0.85" stroke-width="0.8"/><circle cx="175.4" cy="226.5" r="2.75" fill="#d62728" fill-opacity="0.5" stroke="#000" stroke-opacity="0.85" stroke-width="0.8"/><circle cx="190.0" cy="226.5" r="2.75" fill="#d62728" fill-opacity="0.5" stroke="#000" stroke-opacity="0.85" stroke-width="0.8"/><circle cx="233.0" cy="226.5" r="2.75" fill="#d62728" fill-opacity="0.5" stroke="#000" stroke-opacity="0.85" stroke-width="0.8"/><polyline fill="none" stroke="#ff7f0e" stroke-width="1.7" stroke-linejoin="round" points="146.1,244.3 160.8,227.6 175.4,247.4 190.0,271.0 233.0,227.6"/><circle cx="146.1" cy="244.3" r="2.75" fill="#ff7f0e" fill-opacity="0.5" stroke="#000" stroke-opacity="0.85" stroke-width="0.8"/><circle cx="160.8" cy="227.6" r="2.75" fill="#ff7f0e" fill-opacity="0.5" stroke="#000" stroke-opacity="0.85" stroke-width="0.8"/><circle cx="175.4" cy="247.4" r="2.75" fill="#ff7f0e" fill-opacity="0.5" stroke="#000" stroke-opacity="0.85" stroke-width="0.8"/><circle cx="190.0" cy="271.0" r="2.75" fill="#ff7f0e" fill-opacity="0.5" stroke="#000" stroke-opacity="0.85" stroke-width="0.8"/><circle cx="233.0" cy="227.6" r="2.75" fill="#ff7f0e" fill-opacity="0.5" stroke="#000" stroke-opacity="0.85" stroke-width="0.8"/><polyline fill="none" stroke="#9467bd" stroke-width="1.7" stroke-linejoin="round" points="146.1,282.1 160.8,305.8 175.4,255.3 190.0,259.5 233.0,235.6"/><circle cx="146.1" cy="282.1" r="2.75" fill="#9467bd" fill-opacity="0.5" stroke="#000" stroke-opacity="0.85" stroke-width="0.8"/><circle cx="160.8" cy="305.8" r="2.75" fill="#9467bd" fill-opacity="0.5" stroke="#000" stroke-opacity="0.85" stroke-width="0.8"/><circle cx="175.4" cy="255.3" r="2.75" fill="#9467bd" fill-opacity="0.5" stroke="#000" stroke-opacity="0.85" stroke-width="0.8"/><circle cx="190.0" cy="259.5" r="2.75" fill="#9467bd" fill-opacity="0.5" stroke="#000" stroke-opacity="0.85" stroke-width="0.8"/><circle cx="233.0" cy="235.6" r="2.75" fill="#9467bd" fill-opacity="0.5" stroke="#000" stroke-opacity="0.85" stroke-width="0.8"/><polyline fill="none" stroke="#2ca02c" stroke-width="1.7" stroke-linejoin="round" points="146.1,305.8 160.8,305.8 175.4,301.3 190.0,300.9 233.0,295.9"/><circle cx="146.1" cy="305.8" r="2.75" fill="#2ca02c" fill-opacity="0.5" stroke="#000" stroke-opacity="0.85" stroke-width="0.8"/><circle cx="160.8" cy="305.8" r="2.75" fill="#2ca02c" fill-opacity="0.5" stroke="#000" stroke-opacity="0.85" stroke-width="0.8"/><circle cx="175.4" cy="301.3" r="2.75" fill="#2ca02c" fill-opacity="0.5" stroke="#000" stroke-opacity="0.85" stroke-width="0.8"/><circle cx="190.0" cy="300.9" r="2.75" fill="#2ca02c" fill-opacity="0.5" stroke="#000" stroke-opacity="0.85" stroke-width="0.8"/><circle cx="233.0" cy="295.9" r="2.75" fill="#2ca02c" fill-opacity="0.5" stroke="#000" stroke-opacity="0.85" stroke-width="0.8"/><polyline fill="none" stroke="#17becf" stroke-width="1.7" stroke-linejoin="round" points="146.1,287.2 160.8,305.8 175.4,291.8 190.0,291.2 233.0,246.2"/><circle cx="146.1" cy="287.2" r="2.75" fill="#17becf" fill-opacity="0.5" stroke="#000" stroke-opacity="0.85" stroke-width="0.8"/><circle cx="160.8" cy="305.8" r="2.75" fill="#17becf" fill-opacity="0.5" stroke="#000" stroke-opacity="0.85" stroke-width="0.8"/><circle cx="175.4" cy="291.8" r="2.75" fill="#17becf" fill-opacity="0.5" stroke="#000" stroke-opacity="0.85" stroke-width="0.8"/><circle cx="190.0" cy="291.2" r="2.75" fill="#17becf" fill-opacity="0.5" stroke="#000" stroke-opacity="0.85" stroke-width="0.8"/><circle cx="233.0" cy="246.2" r="2.75" fill="#17becf" fill-opacity="0.5" stroke="#000" stroke-opacity="0.85" stroke-width="0.8"/><polyline fill="none" stroke="#1f77b4" stroke-width="1.7" stroke-linejoin="round" points="146.3,226.5 161.0,226.5 175.6,226.5 190.2,226.5 233.2,226.5"/><circle cx="146.3" cy="226.5" r="2.75" fill="#1f77b4" fill-opacity="0.5" stroke="#000" stroke-opacity="0.85" stroke-width="0.8"/><circle cx="161.0" cy="226.5" r="2.75" fill="#1f77b4" fill-opacity="0.5" stroke="#000" stroke-opacity="0.85" stroke-width="0.8"/><circle cx="175.6" cy="226.5" r="2.75" fill="#1f77b4" fill-opacity="0.5" stroke="#000" stroke-opacity="0.85" stroke-width="0.8"/><circle cx="190.2" cy="226.5" r="2.75" fill="#1f77b4" fill-opacity="0.5" stroke="#000" stroke-opacity="0.85" stroke-width="0.8"/><circle cx="233.2" cy="226.5" r="2.75" fill="#1f77b4" fill-opacity="0.5" stroke="#000" stroke-opacity="0.85" stroke-width="0.8"/></g>
<rect x="141.5" y="219.4" width="97.0" height="90.3" fill="none" stroke="#000" stroke-width="1.1"/>
<clipPath id="cp22"><rect x="252.5" y="219.4" width="97.0" height="90.29999999999998"/></clipPath>
<line x1="250.7" y1="221.4" x2="252.5" y2="221.4" stroke="#000" stroke-width="1"/>
<line x1="250.7" y1="263.4" x2="252.5" y2="263.4" stroke="#000" stroke-width="1"/>
<line x1="250.7" y1="305.3" x2="252.5" y2="305.3" stroke="#000" stroke-width="1"/>
<line x1="309.2" y1="309.7" x2="309.2" y2="311.5" stroke="#000" stroke-width="1"/>
<line x1="268.3" y1="309.7" x2="268.3" y2="310.9" stroke="#000" stroke-opacity="0.5" stroke-width="0.5"/>
<line x1="278.6" y1="309.7" x2="278.6" y2="310.9" stroke="#000" stroke-opacity="0.5" stroke-width="0.5"/>
<line x1="285.9" y1="309.7" x2="285.9" y2="310.9" stroke="#000" stroke-opacity="0.5" stroke-width="0.5"/>
<line x1="291.6" y1="309.7" x2="291.6" y2="310.9" stroke="#000" stroke-opacity="0.5" stroke-width="0.5"/>
<line x1="296.2" y1="309.7" x2="296.2" y2="310.9" stroke="#000" stroke-opacity="0.5" stroke-width="0.5"/>
<line x1="300.1" y1="309.7" x2="300.1" y2="310.9" stroke="#000" stroke-opacity="0.5" stroke-width="0.5"/>
<line x1="303.5" y1="309.7" x2="303.5" y2="310.9" stroke="#000" stroke-opacity="0.5" stroke-width="0.5"/>
<line x1="306.5" y1="309.7" x2="306.5" y2="310.9" stroke="#000" stroke-opacity="0.5" stroke-width="0.5"/>
<line x1="326.8" y1="309.7" x2="326.8" y2="310.9" stroke="#000" stroke-opacity="0.5" stroke-width="0.5"/>
<line x1="337.1" y1="309.7" x2="337.1" y2="310.9" stroke="#000" stroke-opacity="0.5" stroke-width="0.5"/>
<line x1="344.4" y1="309.7" x2="344.4" y2="310.9" stroke="#000" stroke-opacity="0.5" stroke-width="0.5"/>
<g clip-path="url(#cp22)"><polyline fill="none" stroke="#d62728" stroke-width="1.7" stroke-linejoin="round" points="257.1,234.2 274.7,224.1 291.9,234.2 309.0,224.5 344.0,224.5"/><circle cx="257.1" cy="234.2" r="2.75" fill="#d62728" fill-opacity="0.5" stroke="#000" stroke-opacity="0.85" stroke-width="0.8"/><circle cx="274.7" cy="224.1" r="2.75" fill="#d62728" fill-opacity="0.5" stroke="#000" stroke-opacity="0.85" stroke-width="0.8"/><circle cx="291.9" cy="234.2" r="2.75" fill="#d62728" fill-opacity="0.5" stroke="#000" stroke-opacity="0.85" stroke-width="0.8"/><circle cx="309.0" cy="224.5" r="2.75" fill="#d62728" fill-opacity="0.5" stroke="#000" stroke-opacity="0.85" stroke-width="0.8"/><circle cx="344.0" cy="224.5" r="2.75" fill="#d62728" fill-opacity="0.5" stroke="#000" stroke-opacity="0.85" stroke-width="0.8"/><polyline fill="none" stroke="#ff7f0e" stroke-width="1.7" stroke-linejoin="round" points="257.1,271.6 274.7,248.2 291.9,231.2 309.0,231.6 344.0,231.6"/><circle cx="257.1" cy="271.6" r="2.75" fill="#ff7f0e" fill-opacity="0.5" stroke="#000" stroke-opacity="0.85" stroke-width="0.8"/><circle cx="274.7" cy="248.2" r="2.75" fill="#ff7f0e" fill-opacity="0.5" stroke="#000" stroke-opacity="0.85" stroke-width="0.8"/><circle cx="291.9" cy="231.2" r="2.75" fill="#ff7f0e" fill-opacity="0.5" stroke="#000" stroke-opacity="0.85" stroke-width="0.8"/><circle cx="309.0" cy="231.6" r="2.75" fill="#ff7f0e" fill-opacity="0.5" stroke="#000" stroke-opacity="0.85" stroke-width="0.8"/><circle cx="344.0" cy="231.6" r="2.75" fill="#ff7f0e" fill-opacity="0.5" stroke="#000" stroke-opacity="0.85" stroke-width="0.8"/><polyline fill="none" stroke="#9467bd" stroke-width="1.7" stroke-linejoin="round" points="257.1,297.7 274.7,305.8 291.9,299.9 309.0,280.1 344.0,263.3"/><circle cx="257.1" cy="297.7" r="2.75" fill="#9467bd" fill-opacity="0.5" stroke="#000" stroke-opacity="0.85" stroke-width="0.8"/><circle cx="274.7" cy="305.8" r="2.75" fill="#9467bd" fill-opacity="0.5" stroke="#000" stroke-opacity="0.85" stroke-width="0.8"/><circle cx="291.9" cy="299.9" r="2.75" fill="#9467bd" fill-opacity="0.5" stroke="#000" stroke-opacity="0.85" stroke-width="0.8"/><circle cx="309.0" cy="280.1" r="2.75" fill="#9467bd" fill-opacity="0.5" stroke="#000" stroke-opacity="0.85" stroke-width="0.8"/><circle cx="344.0" cy="263.3" r="2.75" fill="#9467bd" fill-opacity="0.5" stroke="#000" stroke-opacity="0.85" stroke-width="0.8"/><polyline fill="none" stroke="#2ca02c" stroke-width="1.7" stroke-linejoin="round" points="257.1,305.8 274.7,305.8 291.9,299.9 309.0,294.3 344.0,277.7"/><circle cx="257.1" cy="305.8" r="2.75" fill="#2ca02c" fill-opacity="0.5" stroke="#000" stroke-opacity="0.85" stroke-width="0.8"/><circle cx="274.7" cy="305.8" r="2.75" fill="#2ca02c" fill-opacity="0.5" stroke="#000" stroke-opacity="0.85" stroke-width="0.8"/><circle cx="291.9" cy="299.9" r="2.75" fill="#2ca02c" fill-opacity="0.5" stroke="#000" stroke-opacity="0.85" stroke-width="0.8"/><circle cx="309.0" cy="294.3" r="2.75" fill="#2ca02c" fill-opacity="0.5" stroke="#000" stroke-opacity="0.85" stroke-width="0.8"/><circle cx="344.0" cy="277.7" r="2.75" fill="#2ca02c" fill-opacity="0.5" stroke="#000" stroke-opacity="0.85" stroke-width="0.8"/><polyline fill="none" stroke="#17becf" stroke-width="1.7" stroke-linejoin="round" points="257.1,294.9 274.7,299.9 291.9,243.7 309.0,305.8 344.0,243.1"/><circle cx="257.1" cy="294.9" r="2.75" fill="#17becf" fill-opacity="0.5" stroke="#000" stroke-opacity="0.85" stroke-width="0.8"/><circle cx="274.7" cy="299.9" r="2.75" fill="#17becf" fill-opacity="0.5" stroke="#000" stroke-opacity="0.85" stroke-width="0.8"/><circle cx="291.9" cy="243.7" r="2.75" fill="#17becf" fill-opacity="0.5" stroke="#000" stroke-opacity="0.85" stroke-width="0.8"/><circle cx="309.0" cy="305.8" r="2.75" fill="#17becf" fill-opacity="0.5" stroke="#000" stroke-opacity="0.85" stroke-width="0.8"/><circle cx="344.0" cy="243.1" r="2.75" fill="#17becf" fill-opacity="0.5" stroke="#000" stroke-opacity="0.85" stroke-width="0.8"/><polyline fill="none" stroke="#1f77b4" stroke-width="1.7" stroke-linejoin="round" points="257.3,225.5 274.9,224.9 292.1,226.1 309.2,225.5 344.2,225.5"/><circle cx="257.3" cy="225.5" r="2.75" fill="#1f77b4" fill-opacity="0.5" stroke="#000" stroke-opacity="0.85" stroke-width="0.8"/><circle cx="274.9" cy="224.9" r="2.75" fill="#1f77b4" fill-opacity="0.5" stroke="#000" stroke-opacity="0.85" stroke-width="0.8"/><circle cx="292.1" cy="226.1" r="2.75" fill="#1f77b4" fill-opacity="0.5" stroke="#000" stroke-opacity="0.85" stroke-width="0.8"/><circle cx="309.2" cy="225.5" r="2.75" fill="#1f77b4" fill-opacity="0.5" stroke="#000" stroke-opacity="0.85" stroke-width="0.8"/><circle cx="344.2" cy="225.5" r="2.75" fill="#1f77b4" fill-opacity="0.5" stroke="#000" stroke-opacity="0.85" stroke-width="0.8"/></g>
<rect x="252.5" y="219.4" width="97.0" height="90.3" fill="none" stroke="#000" stroke-width="1.1"/>
<clipPath id="cp23"><rect x="363.5" y="219.4" width="97.0" height="90.29999999999998"/></clipPath>
<line x1="361.7" y1="221.4" x2="363.5" y2="221.4" stroke="#000" stroke-width="1"/>
<line x1="361.7" y1="263.4" x2="363.5" y2="263.4" stroke="#000" stroke-width="1"/>
<line x1="361.7" y1="305.3" x2="363.5" y2="305.3" stroke="#000" stroke-width="1"/>
<line x1="368.1" y1="309.7" x2="368.1" y2="311.5" stroke="#000" stroke-width="1"/>
<line x1="396.4" y1="309.7" x2="396.4" y2="311.5" stroke="#000" stroke-width="1"/>
<line x1="424.5" y1="309.7" x2="424.5" y2="311.5" stroke="#000" stroke-width="1"/>
<line x1="452.6" y1="309.7" x2="452.6" y2="311.5" stroke="#000" stroke-width="1"/>
<g clip-path="url(#cp23)"><polyline fill="none" stroke="#d62728" stroke-width="1.7" stroke-linejoin="round" points="368.1,256.9 396.4,234.6 424.7,226.5 452.6,226.5"/><circle cx="368.1" cy="256.9" r="2.75" fill="#d62728" fill-opacity="0.5" stroke="#000" stroke-opacity="0.85" stroke-width="0.8"/><circle cx="396.4" cy="234.6" r="2.75" fill="#d62728" fill-opacity="0.5" stroke="#000" stroke-opacity="0.85" stroke-width="0.8"/><circle cx="424.7" cy="226.5" r="2.75" fill="#d62728" fill-opacity="0.5" stroke="#000" stroke-opacity="0.85" stroke-width="0.8"/><circle cx="452.6" cy="226.5" r="2.75" fill="#d62728" fill-opacity="0.5" stroke="#000" stroke-opacity="0.85" stroke-width="0.8"/><polyline fill="none" stroke="#ff7f0e" stroke-width="1.7" stroke-linejoin="round" points="368.1,305.8 396.4,239.7 424.7,294.9 452.6,276.1"/><circle cx="368.1" cy="305.8" r="2.75" fill="#ff7f0e" fill-opacity="0.5" stroke="#000" stroke-opacity="0.85" stroke-width="0.8"/><circle cx="396.4" cy="239.7" r="2.75" fill="#ff7f0e" fill-opacity="0.5" stroke="#000" stroke-opacity="0.85" stroke-width="0.8"/><circle cx="424.7" cy="294.9" r="2.75" fill="#ff7f0e" fill-opacity="0.5" stroke="#000" stroke-opacity="0.85" stroke-width="0.8"/><circle cx="452.6" cy="276.1" r="2.75" fill="#ff7f0e" fill-opacity="0.5" stroke="#000" stroke-opacity="0.85" stroke-width="0.8"/><polyline fill="none" stroke="#9467bd" stroke-width="1.7" stroke-linejoin="round" points="368.1,305.8 396.4,305.8 424.7,305.8 452.6,294.3"/><circle cx="368.1" cy="305.8" r="2.75" fill="#9467bd" fill-opacity="0.5" stroke="#000" stroke-opacity="0.85" stroke-width="0.8"/><circle cx="396.4" cy="305.8" r="2.75" fill="#9467bd" fill-opacity="0.5" stroke="#000" stroke-opacity="0.85" stroke-width="0.8"/><circle cx="424.7" cy="305.8" r="2.75" fill="#9467bd" fill-opacity="0.5" stroke="#000" stroke-opacity="0.85" stroke-width="0.8"/><circle cx="452.6" cy="294.3" r="2.75" fill="#9467bd" fill-opacity="0.5" stroke="#000" stroke-opacity="0.85" stroke-width="0.8"/><polyline fill="none" stroke="#2ca02c" stroke-width="1.7" stroke-linejoin="round" points="368.1,305.8 396.4,305.8 424.7,293.3 452.6,281.1"/><circle cx="368.1" cy="305.8" r="2.75" fill="#2ca02c" fill-opacity="0.5" stroke="#000" stroke-opacity="0.85" stroke-width="0.8"/><circle cx="396.4" cy="305.8" r="2.75" fill="#2ca02c" fill-opacity="0.5" stroke="#000" stroke-opacity="0.85" stroke-width="0.8"/><circle cx="424.7" cy="293.3" r="2.75" fill="#2ca02c" fill-opacity="0.5" stroke="#000" stroke-opacity="0.85" stroke-width="0.8"/><circle cx="452.6" cy="281.1" r="2.75" fill="#2ca02c" fill-opacity="0.5" stroke="#000" stroke-opacity="0.85" stroke-width="0.8"/><polyline fill="none" stroke="#17becf" stroke-width="1.7" stroke-linejoin="round" points="368.1,289.6 396.4,293.3 424.7,299.3 452.6,275.1"/><circle cx="368.1" cy="289.6" r="2.75" fill="#17becf" fill-opacity="0.5" stroke="#000" stroke-opacity="0.85" stroke-width="0.8"/><circle cx="396.4" cy="293.3" r="2.75" fill="#17becf" fill-opacity="0.5" stroke="#000" stroke-opacity="0.85" stroke-width="0.8"/><circle cx="424.7" cy="299.3" r="2.75" fill="#17becf" fill-opacity="0.5" stroke="#000" stroke-opacity="0.85" stroke-width="0.8"/><circle cx="452.6" cy="275.1" r="2.75" fill="#17becf" fill-opacity="0.5" stroke="#000" stroke-opacity="0.85" stroke-width="0.8"/><polyline fill="none" stroke="#1f77b4" stroke-width="1.7" stroke-linejoin="round" points="371.1,226.5 399.4,224.1 427.7,224.1 455.6,224.1"/><circle cx="371.1" cy="226.5" r="2.75" fill="#1f77b4" fill-opacity="0.5" stroke="#000" stroke-opacity="0.85" stroke-width="0.8"/><circle cx="399.4" cy="224.1" r="2.75" fill="#1f77b4" fill-opacity="0.5" stroke="#000" stroke-opacity="0.85" stroke-width="0.8"/><circle cx="427.7" cy="224.1" r="2.75" fill="#1f77b4" fill-opacity="0.5" stroke="#000" stroke-opacity="0.85" stroke-width="0.8"/><circle cx="455.6" cy="224.1" r="2.75" fill="#1f77b4" fill-opacity="0.5" stroke="#000" stroke-opacity="0.85" stroke-width="0.8"/></g>
<rect x="363.5" y="219.4" width="97.0" height="90.3" fill="none" stroke="#000" stroke-width="1.1"/>
<clipPath id="cp24"><rect x="474.5" y="219.4" width="97.0" height="90.29999999999998"/></clipPath>
<line x1="472.7" y1="221.4" x2="474.5" y2="221.4" stroke="#000" stroke-width="1"/>
<line x1="472.7" y1="263.4" x2="474.5" y2="263.4" stroke="#000" stroke-width="1"/>
<line x1="472.7" y1="305.3" x2="474.5" y2="305.3" stroke="#000" stroke-width="1"/>
<line x1="479.1" y1="309.7" x2="479.1" y2="311.5" stroke="#000" stroke-width="1"/>
<line x1="507.2" y1="309.7" x2="507.2" y2="311.5" stroke="#000" stroke-width="1"/>
<line x1="535.4" y1="309.7" x2="535.4" y2="311.5" stroke="#000" stroke-width="1"/>
<line x1="563.6" y1="309.7" x2="563.6" y2="311.5" stroke="#000" stroke-width="1"/>
<g clip-path="url(#cp24)"><polyline fill="none" stroke="#d62728" stroke-width="1.7" stroke-linejoin="round" points="479.1,257.3 507.4,261.9 535.3,266.0 563.6,266.4"/><circle cx="479.1" cy="257.3" r="2.75" fill="#d62728" fill-opacity="0.5" stroke="#000" stroke-opacity="0.85" stroke-width="0.8"/><circle cx="507.4" cy="261.9" r="2.75" fill="#d62728" fill-opacity="0.5" stroke="#000" stroke-opacity="0.85" stroke-width="0.8"/><circle cx="535.3" cy="266.0" r="2.75" fill="#d62728" fill-opacity="0.5" stroke="#000" stroke-opacity="0.85" stroke-width="0.8"/><circle cx="563.6" cy="266.4" r="2.75" fill="#d62728" fill-opacity="0.5" stroke="#000" stroke-opacity="0.85" stroke-width="0.8"/><polyline fill="none" stroke="#ff7f0e" stroke-width="1.7" stroke-linejoin="round" points="479.1,258.9 507.4,265.6 535.3,267.0 563.6,229.6"/><circle cx="479.1" cy="258.9" r="2.75" fill="#ff7f0e" fill-opacity="0.5" stroke="#000" stroke-opacity="0.85" stroke-width="0.8"/><circle cx="507.4" cy="265.6" r="2.75" fill="#ff7f0e" fill-opacity="0.5" stroke="#000" stroke-opacity="0.85" stroke-width="0.8"/><circle cx="535.3" cy="267.0" r="2.75" fill="#ff7f0e" fill-opacity="0.5" stroke="#000" stroke-opacity="0.85" stroke-width="0.8"/><circle cx="563.6" cy="229.6" r="2.75" fill="#ff7f0e" fill-opacity="0.5" stroke="#000" stroke-opacity="0.85" stroke-width="0.8"/><polyline fill="none" stroke="#9467bd" stroke-width="1.7" stroke-linejoin="round" points="479.1,305.8 507.4,285.2 535.3,271.0 563.6,275.7"/><circle cx="479.1" cy="305.8" r="2.75" fill="#9467bd" fill-opacity="0.5" stroke="#000" stroke-opacity="0.85" stroke-width="0.8"/><circle cx="507.4" cy="285.2" r="2.75" fill="#9467bd" fill-opacity="0.5" stroke="#000" stroke-opacity="0.85" stroke-width="0.8"/><circle cx="535.3" cy="271.0" r="2.75" fill="#9467bd" fill-opacity="0.5" stroke="#000" stroke-opacity="0.85" stroke-width="0.8"/><circle cx="563.6" cy="275.7" r="2.75" fill="#9467bd" fill-opacity="0.5" stroke="#000" stroke-opacity="0.85" stroke-width="0.8"/><polyline fill="none" stroke="#2ca02c" stroke-width="1.7" stroke-linejoin="round" points="479.1,305.8 507.4,305.8 535.3,303.4 563.6,299.9"/><circle cx="479.1" cy="305.8" r="2.75" fill="#2ca02c" fill-opacity="0.5" stroke="#000" stroke-opacity="0.85" stroke-width="0.8"/><circle cx="507.4" cy="305.8" r="2.75" fill="#2ca02c" fill-opacity="0.5" stroke="#000" stroke-opacity="0.85" stroke-width="0.8"/><circle cx="535.3" cy="303.4" r="2.75" fill="#2ca02c" fill-opacity="0.5" stroke="#000" stroke-opacity="0.85" stroke-width="0.8"/><circle cx="563.6" cy="299.9" r="2.75" fill="#2ca02c" fill-opacity="0.5" stroke="#000" stroke-opacity="0.85" stroke-width="0.8"/><polyline fill="none" stroke="#17becf" stroke-width="1.7" stroke-linejoin="round" points="479.1,305.8 507.4,305.8 535.3,234.0 563.6,251.8"/><circle cx="479.1" cy="305.8" r="2.75" fill="#17becf" fill-opacity="0.5" stroke="#000" stroke-opacity="0.85" stroke-width="0.8"/><circle cx="507.4" cy="305.8" r="2.75" fill="#17becf" fill-opacity="0.5" stroke="#000" stroke-opacity="0.85" stroke-width="0.8"/><circle cx="535.3" cy="234.0" r="2.75" fill="#17becf" fill-opacity="0.5" stroke="#000" stroke-opacity="0.85" stroke-width="0.8"/><circle cx="563.6" cy="251.8" r="2.75" fill="#17becf" fill-opacity="0.5" stroke="#000" stroke-opacity="0.85" stroke-width="0.8"/><polyline fill="none" stroke="#1f77b4" stroke-width="1.7" stroke-linejoin="round" points="482.1,226.5 510.4,227.2 538.3,227.0 566.6,227.0"/><circle cx="482.1" cy="226.5" r="2.75" fill="#1f77b4" fill-opacity="0.5" stroke="#000" stroke-opacity="0.85" stroke-width="0.8"/><circle cx="510.4" cy="227.2" r="2.75" fill="#1f77b4" fill-opacity="0.5" stroke="#000" stroke-opacity="0.85" stroke-width="0.8"/><circle cx="538.3" cy="227.0" r="2.75" fill="#1f77b4" fill-opacity="0.5" stroke="#000" stroke-opacity="0.85" stroke-width="0.8"/><circle cx="566.6" cy="227.0" r="2.75" fill="#1f77b4" fill-opacity="0.5" stroke="#000" stroke-opacity="0.85" stroke-width="0.8"/></g>
<rect x="474.5" y="219.4" width="97.0" height="90.3" fill="none" stroke="#000" stroke-width="1.1"/>
<clipPath id="cp25"><rect x="585.5" y="219.4" width="95.0" height="90.29999999999998"/></clipPath>
<line x1="583.7" y1="221.4" x2="585.5" y2="221.4" stroke="#000" stroke-width="1"/>
<line x1="583.7" y1="263.4" x2="585.5" y2="263.4" stroke="#000" stroke-width="1"/>
<line x1="583.7" y1="305.3" x2="585.5" y2="305.3" stroke="#000" stroke-width="1"/>
<line x1="590.1" y1="309.7" x2="590.1" y2="311.5" stroke="#000" stroke-width="1"/>
<line x1="618.3" y1="309.7" x2="618.3" y2="311.5" stroke="#000" stroke-width="1"/>
<line x1="646.5" y1="309.7" x2="646.5" y2="311.5" stroke="#000" stroke-width="1"/>
<line x1="674.6" y1="309.7" x2="674.6" y2="311.5" stroke="#000" stroke-width="1"/>
<g clip-path="url(#cp25)"><polyline fill="none" stroke="#d62728" stroke-width="1.7" stroke-linejoin="round" points="590.1,234.2 618.4,234.0 646.7,234.0 674.6,234.6"/><circle cx="590.1" cy="234.2" r="2.75" fill="#d62728" fill-opacity="0.5" stroke="#000" stroke-opacity="0.85" stroke-width="0.8"/><circle cx="618.4" cy="234.0" r="2.75" fill="#d62728" fill-opacity="0.5" stroke="#000" stroke-opacity="0.85" stroke-width="0.8"/><circle cx="646.7" cy="234.0" r="2.75" fill="#d62728" fill-opacity="0.5" stroke="#000" stroke-opacity="0.85" stroke-width="0.8"/><circle cx="674.6" cy="234.6" r="2.75" fill="#d62728" fill-opacity="0.5" stroke="#000" stroke-opacity="0.85" stroke-width="0.8"/><polyline fill="none" stroke="#ff7f0e" stroke-width="1.7" stroke-linejoin="round" points="590.1,296.9 618.4,242.1 646.7,242.7 674.6,237.7"/><circle cx="590.1" cy="296.9" r="2.75" fill="#ff7f0e" fill-opacity="0.5" stroke="#000" stroke-opacity="0.85" stroke-width="0.8"/><circle cx="618.4" cy="242.1" r="2.75" fill="#ff7f0e" fill-opacity="0.5" stroke="#000" stroke-opacity="0.85" stroke-width="0.8"/><circle cx="646.7" cy="242.7" r="2.75" fill="#ff7f0e" fill-opacity="0.5" stroke="#000" stroke-opacity="0.85" stroke-width="0.8"/><circle cx="674.6" cy="237.7" r="2.75" fill="#ff7f0e" fill-opacity="0.5" stroke="#000" stroke-opacity="0.85" stroke-width="0.8"/><polyline fill="none" stroke="#9467bd" stroke-width="1.7" stroke-linejoin="round" points="590.1,305.8 618.4,305.8 646.7,298.9 674.6,287.2"/><circle cx="590.1" cy="305.8" r="2.75" fill="#9467bd" fill-opacity="0.5" stroke="#000" stroke-opacity="0.85" stroke-width="0.8"/><circle cx="618.4" cy="305.8" r="2.75" fill="#9467bd" fill-opacity="0.5" stroke="#000" stroke-opacity="0.85" stroke-width="0.8"/><circle cx="646.7" cy="298.9" r="2.75" fill="#9467bd" fill-opacity="0.5" stroke="#000" stroke-opacity="0.85" stroke-width="0.8"/><circle cx="674.6" cy="287.2" r="2.75" fill="#9467bd" fill-opacity="0.5" stroke="#000" stroke-opacity="0.85" stroke-width="0.8"/><polyline fill="none" stroke="#2ca02c" stroke-width="1.7" stroke-linejoin="round" points="590.1,305.8 618.4,305.8 646.7,302.4 674.6,295.3"/><circle cx="590.1" cy="305.8" r="2.75" fill="#2ca02c" fill-opacity="0.5" stroke="#000" stroke-opacity="0.85" stroke-width="0.8"/><circle cx="618.4" cy="305.8" r="2.75" fill="#2ca02c" fill-opacity="0.5" stroke="#000" stroke-opacity="0.85" stroke-width="0.8"/><circle cx="646.7" cy="302.4" r="2.75" fill="#2ca02c" fill-opacity="0.5" stroke="#000" stroke-opacity="0.85" stroke-width="0.8"/><circle cx="674.6" cy="295.3" r="2.75" fill="#2ca02c" fill-opacity="0.5" stroke="#000" stroke-opacity="0.85" stroke-width="0.8"/><polyline fill="none" stroke="#17becf" stroke-width="1.7" stroke-linejoin="round" points="590.1,300.9 618.4,294.9 646.7,251.4 674.6,246.8"/><circle cx="590.1" cy="300.9" r="2.75" fill="#17becf" fill-opacity="0.5" stroke="#000" stroke-opacity="0.85" stroke-width="0.8"/><circle cx="618.4" cy="294.9" r="2.75" fill="#17becf" fill-opacity="0.5" stroke="#000" stroke-opacity="0.85" stroke-width="0.8"/><circle cx="646.7" cy="251.4" r="2.75" fill="#17becf" fill-opacity="0.5" stroke="#000" stroke-opacity="0.85" stroke-width="0.8"/><circle cx="674.6" cy="246.8" r="2.75" fill="#17becf" fill-opacity="0.5" stroke="#000" stroke-opacity="0.85" stroke-width="0.8"/><polyline fill="none" stroke="#1f77b4" stroke-width="1.7" stroke-linejoin="round" points="592.7,225.9 621.0,225.9 649.3,225.9 677.2,225.5"/><circle cx="592.7" cy="225.9" r="2.75" fill="#1f77b4" fill-opacity="0.5" stroke="#000" stroke-opacity="0.85" stroke-width="0.8"/><circle cx="621.0" cy="225.9" r="2.75" fill="#1f77b4" fill-opacity="0.5" stroke="#000" stroke-opacity="0.85" stroke-width="0.8"/><circle cx="649.3" cy="225.9" r="2.75" fill="#1f77b4" fill-opacity="0.5" stroke="#000" stroke-opacity="0.85" stroke-width="0.8"/><circle cx="677.2" cy="225.5" r="2.75" fill="#1f77b4" fill-opacity="0.5" stroke="#000" stroke-opacity="0.85" stroke-width="0.8"/></g>
<rect x="585.5" y="219.4" width="95.0" height="90.3" fill="none" stroke="#000" stroke-width="1.1"/>
<clipPath id="cp30"><rect x="31" y="318.6" width="96.5" height="90.59999999999997"/></clipPath>
<line x1="29.2" y1="322.7" x2="31" y2="322.7" stroke="#000" stroke-width="1"/>
<text transform="translate(28.2,326.6) scale(1,1.0)" font-size="9.4" text-anchor="end">1.0</text>
<line x1="29.2" y1="363.9" x2="31" y2="363.9" stroke="#000" stroke-width="1"/>
<text transform="translate(28.2,367.8) scale(1,1.0)" font-size="9.4" text-anchor="end">0.5</text>
<line x1="29.2" y1="405.0" x2="31" y2="405.0" stroke="#000" stroke-width="1"/>
<text transform="translate(28.2,408.9) scale(1,1.0)" font-size="9.4" text-anchor="end">0.0</text>
<line x1="31.9" y1="409.2" x2="31.9" y2="411.0" stroke="#000" stroke-width="1"/>
<text transform="translate(30.1,422.2) scale(1,1.0)" font-size="9.4" text-anchor="middle">10</text><text transform="translate(35.2,415.6) scale(1,1.05)" font-size="6.4">3</text>
<line x1="80.2" y1="409.2" x2="80.2" y2="411.0" stroke="#000" stroke-width="1"/>
<text transform="translate(78.4,422.2) scale(1,1.0)" font-size="9.4" text-anchor="middle">10</text><text transform="translate(83.5,415.6) scale(1,1.05)" font-size="6.4">4</text>
<line x1="46.4" y1="409.2" x2="46.4" y2="410.4" stroke="#000" stroke-opacity="0.5" stroke-width="0.5"/>
<line x1="54.9" y1="409.2" x2="54.9" y2="410.4" stroke="#000" stroke-opacity="0.5" stroke-width="0.5"/>
<line x1="61.0" y1="409.2" x2="61.0" y2="410.4" stroke="#000" stroke-opacity="0.5" stroke-width="0.5"/>
<line x1="65.7" y1="409.2" x2="65.7" y2="410.4" stroke="#000" stroke-opacity="0.5" stroke-width="0.5"/>
<line x1="69.5" y1="409.2" x2="69.5" y2="410.4" stroke="#000" stroke-opacity="0.5" stroke-width="0.5"/>
<line x1="72.7" y1="409.2" x2="72.7" y2="410.4" stroke="#000" stroke-opacity="0.5" stroke-width="0.5"/>
<line x1="75.5" y1="409.2" x2="75.5" y2="410.4" stroke="#000" stroke-opacity="0.5" stroke-width="0.5"/>
<line x1="78.0" y1="409.2" x2="78.0" y2="410.4" stroke="#000" stroke-opacity="0.5" stroke-width="0.5"/>
<line x1="94.7" y1="409.2" x2="94.7" y2="410.4" stroke="#000" stroke-opacity="0.5" stroke-width="0.5"/>
<line x1="103.2" y1="409.2" x2="103.2" y2="410.4" stroke="#000" stroke-opacity="0.5" stroke-width="0.5"/>
<line x1="109.3" y1="409.2" x2="109.3" y2="410.4" stroke="#000" stroke-opacity="0.5" stroke-width="0.5"/>
<line x1="114.0" y1="409.2" x2="114.0" y2="410.4" stroke="#000" stroke-opacity="0.5" stroke-width="0.5"/>
<line x1="117.8" y1="409.2" x2="117.8" y2="410.4" stroke="#000" stroke-opacity="0.5" stroke-width="0.5"/>
<line x1="121.0" y1="409.2" x2="121.0" y2="410.4" stroke="#000" stroke-opacity="0.5" stroke-width="0.5"/>
<line x1="123.8" y1="409.2" x2="123.8" y2="410.4" stroke="#000" stroke-opacity="0.5" stroke-width="0.5"/>
<line x1="126.3" y1="409.2" x2="126.3" y2="410.4" stroke="#000" stroke-opacity="0.5" stroke-width="0.5"/>
<g clip-path="url(#cp30)"><polyline fill="none" stroke="#d62728" stroke-width="1.7" stroke-linejoin="round" points="35.5,327.0 49.8,327.0 64.0,335.0 78.9,326.2 121.6,325.5"/><circle cx="35.5" cy="327.0" r="2.75" fill="#d62728" fill-opacity="0.5" stroke="#000" stroke-opacity="0.85" stroke-width="0.8"/><circle cx="49.8" cy="327.0" r="2.75" fill="#d62728" fill-opacity="0.5" stroke="#000" stroke-opacity="0.85" stroke-width="0.8"/><circle cx="64.0" cy="335.0" r="2.75" fill="#d62728" fill-opacity="0.5" stroke="#000" stroke-opacity="0.85" stroke-width="0.8"/><circle cx="78.9" cy="326.2" r="2.75" fill="#d62728" fill-opacity="0.5" stroke="#000" stroke-opacity="0.85" stroke-width="0.8"/><circle cx="121.6" cy="325.5" r="2.75" fill="#d62728" fill-opacity="0.5" stroke="#000" stroke-opacity="0.85" stroke-width="0.8"/><polyline fill="none" stroke="#ff7f0e" stroke-width="1.7" stroke-linejoin="round" points="35.5,402.4 49.8,400.3 64.0,330.2 78.9,339.7 121.6,326.6"/><circle cx="35.5" cy="402.4" r="2.75" fill="#ff7f0e" fill-opacity="0.5" stroke="#000" stroke-opacity="0.85" stroke-width="0.8"/><circle cx="49.8" cy="400.3" r="2.75" fill="#ff7f0e" fill-opacity="0.5" stroke="#000" stroke-opacity="0.85" stroke-width="0.8"/><circle cx="64.0" cy="330.2" r="2.75" fill="#ff7f0e" fill-opacity="0.5" stroke="#000" stroke-opacity="0.85" stroke-width="0.8"/><circle cx="78.9" cy="339.7" r="2.75" fill="#ff7f0e" fill-opacity="0.5" stroke="#000" stroke-opacity="0.85" stroke-width="0.8"/><circle cx="121.6" cy="326.6" r="2.75" fill="#ff7f0e" fill-opacity="0.5" stroke="#000" stroke-opacity="0.85" stroke-width="0.8"/><polyline fill="none" stroke="#9467bd" stroke-width="1.7" stroke-linejoin="round" points="35.5,405.4 49.8,405.4 64.0,396.7 78.9,376.7 121.6,333.6"/><circle cx="35.5" cy="405.4" r="2.75" fill="#9467bd" fill-opacity="0.5" stroke="#000" stroke-opacity="0.85" stroke-width="0.8"/><circle cx="49.8" cy="405.4" r="2.75" fill="#9467bd" fill-opacity="0.5" stroke="#000" stroke-opacity="0.85" stroke-width="0.8"/><circle cx="64.0" cy="396.7" r="2.75" fill="#9467bd" fill-opacity="0.5" stroke="#000" stroke-opacity="0.85" stroke-width="0.8"/><circle cx="78.9" cy="376.7" r="2.75" fill="#9467bd" fill-opacity="0.5" stroke="#000" stroke-opacity="0.85" stroke-width="0.8"/><circle cx="121.6" cy="333.6" r="2.75" fill="#9467bd" fill-opacity="0.5" stroke="#000" stroke-opacity="0.85" stroke-width="0.8"/><polyline fill="none" stroke="#2ca02c" stroke-width="1.7" stroke-linejoin="round" points="35.5,405.4 49.8,405.4 64.0,390.8 78.9,335.0 121.6,329.0"/><circle cx="35.5" cy="405.4" r="2.75" fill="#2ca02c" fill-opacity="0.5" stroke="#000" stroke-opacity="0.85" stroke-width="0.8"/><circle cx="49.8" cy="405.4" r="2.75" fill="#2ca02c" fill-opacity="0.5" stroke="#000" stroke-opacity="0.85" stroke-width="0.8"/><circle cx="64.0" cy="390.8" r="2.75" fill="#2ca02c" fill-opacity="0.5" stroke="#000" stroke-opacity="0.85" stroke-width="0.8"/><circle cx="78.9" cy="335.0" r="2.75" fill="#2ca02c" fill-opacity="0.5" stroke="#000" stroke-opacity="0.85" stroke-width="0.8"/><circle cx="121.6" cy="329.0" r="2.75" fill="#2ca02c" fill-opacity="0.5" stroke="#000" stroke-opacity="0.85" stroke-width="0.8"/><polyline fill="none" stroke="#17becf" stroke-width="1.7" stroke-linejoin="round" points="35.5,343.3 49.8,338.1 64.0,355.9 78.9,400.7 121.6,334.2"/><circle cx="35.5" cy="343.3" r="2.75" fill="#17becf" fill-opacity="0.5" stroke="#000" stroke-opacity="0.85" stroke-width="0.8"/><circle cx="49.8" cy="338.1" r="2.75" fill="#17becf" fill-opacity="0.5" stroke="#000" stroke-opacity="0.85" stroke-width="0.8"/><circle cx="64.0" cy="355.9" r="2.75" fill="#17becf" fill-opacity="0.5" stroke="#000" stroke-opacity="0.85" stroke-width="0.8"/><circle cx="78.9" cy="400.7" r="2.75" fill="#17becf" fill-opacity="0.5" stroke="#000" stroke-opacity="0.85" stroke-width="0.8"/><circle cx="121.6" cy="334.2" r="2.75" fill="#17becf" fill-opacity="0.5" stroke="#000" stroke-opacity="0.85" stroke-width="0.8"/><polyline fill="none" stroke="#1f77b4" stroke-width="1.7" stroke-linejoin="round" points="35.7,324.5 50.0,324.9 64.2,324.9 79.1,326.2 121.8,324.5"/><circle cx="35.7" cy="324.5" r="2.75" fill="#1f77b4" fill-opacity="0.5" stroke="#000" stroke-opacity="0.85" stroke-width="0.8"/><circle cx="50.0" cy="324.9" r="2.75" fill="#1f77b4" fill-opacity="0.5" stroke="#000" stroke-opacity="0.85" stroke-width="0.8"/><circle cx="64.2" cy="324.9" r="2.75" fill="#1f77b4" fill-opacity="0.5" stroke="#000" stroke-opacity="0.85" stroke-width="0.8"/><circle cx="79.1" cy="326.2" r="2.75" fill="#1f77b4" fill-opacity="0.5" stroke="#000" stroke-opacity="0.85" stroke-width="0.8"/><circle cx="121.8" cy="324.5" r="2.75" fill="#1f77b4" fill-opacity="0.5" stroke="#000" stroke-opacity="0.85" stroke-width="0.8"/></g>
<rect x="31" y="318.6" width="96.5" height="90.6" fill="none" stroke="#000" stroke-width="1.1"/>
<clipPath id="cp31"><rect x="141.5" y="318.6" width="97.0" height="90.59999999999997"/></clipPath>
<line x1="139.7" y1="322.7" x2="141.5" y2="322.7" stroke="#000" stroke-width="1"/>
<line x1="139.7" y1="363.9" x2="141.5" y2="363.9" stroke="#000" stroke-width="1"/>
<line x1="139.7" y1="405.0" x2="141.5" y2="405.0" stroke="#000" stroke-width="1"/>
<line x1="143.0" y1="409.2" x2="143.0" y2="411.0" stroke="#000" stroke-width="1"/>
<text transform="translate(141.2,422.2) scale(1,1.0)" font-size="9.4" text-anchor="middle">10</text><text transform="translate(146.3,415.6) scale(1,1.05)" font-size="6.4">3</text>
<line x1="190.0" y1="409.2" x2="190.0" y2="411.0" stroke="#000" stroke-width="1"/>
<text transform="translate(188.2,422.2) scale(1,1.0)" font-size="9.4" text-anchor="middle">10</text><text transform="translate(193.3,415.6) scale(1,1.05)" font-size="6.4">4</text>
<line x1="237.0" y1="409.2" x2="237.0" y2="411.0" stroke="#000" stroke-width="1"/>
<text transform="translate(235.2,422.2) scale(1,1.0)" font-size="9.4" text-anchor="middle">10</text><text transform="translate(240.3,415.6) scale(1,1.05)" font-size="6.4">5</text>
<line x1="157.1" y1="409.2" x2="157.1" y2="410.4" stroke="#000" stroke-opacity="0.5" stroke-width="0.5"/>
<line x1="165.4" y1="409.2" x2="165.4" y2="410.4" stroke="#000" stroke-opacity="0.5" stroke-width="0.5"/>
<line x1="171.3" y1="409.2" x2="171.3" y2="410.4" stroke="#000" stroke-opacity="0.5" stroke-width="0.5"/>
<line x1="175.9" y1="409.2" x2="175.9" y2="410.4" stroke="#000" stroke-opacity="0.5" stroke-width="0.5"/>
<line x1="179.6" y1="409.2" x2="179.6" y2="410.4" stroke="#000" stroke-opacity="0.5" stroke-width="0.5"/>
<line x1="182.7" y1="409.2" x2="182.7" y2="410.4" stroke="#000" stroke-opacity="0.5" stroke-width="0.5"/>
<line x1="185.4" y1="409.2" x2="185.4" y2="410.4" stroke="#000" stroke-opacity="0.5" stroke-width="0.5"/>
<line x1="187.8" y1="409.2" x2="187.8" y2="410.4" stroke="#000" stroke-opacity="0.5" stroke-width="0.5"/>
<line x1="204.1" y1="409.2" x2="204.1" y2="410.4" stroke="#000" stroke-opacity="0.5" stroke-width="0.5"/>
<line x1="212.4" y1="409.2" x2="212.4" y2="410.4" stroke="#000" stroke-opacity="0.5" stroke-width="0.5"/>
<line x1="218.3" y1="409.2" x2="218.3" y2="410.4" stroke="#000" stroke-opacity="0.5" stroke-width="0.5"/>
<line x1="222.9" y1="409.2" x2="222.9" y2="410.4" stroke="#000" stroke-opacity="0.5" stroke-width="0.5"/>
<line x1="226.6" y1="409.2" x2="226.6" y2="410.4" stroke="#000" stroke-opacity="0.5" stroke-width="0.5"/>
<line x1="229.7" y1="409.2" x2="229.7" y2="410.4" stroke="#000" stroke-opacity="0.5" stroke-width="0.5"/>
<line x1="232.4" y1="409.2" x2="232.4" y2="410.4" stroke="#000" stroke-opacity="0.5" stroke-width="0.5"/>
<line x1="234.8" y1="409.2" x2="234.8" y2="410.4" stroke="#000" stroke-opacity="0.5" stroke-width="0.5"/>
<g clip-path="url(#cp31)"><polyline fill="none" stroke="#d62728" stroke-width="1.7" stroke-linejoin="round" points="146.1,324.1 160.8,323.9 175.4,324.1 190.0,324.5 233.0,324.1"/><circle cx="146.1" cy="324.1" r="2.75" fill="#d62728" fill-opacity="0.5" stroke="#000" stroke-opacity="0.85" stroke-width="0.8"/><circle cx="160.8" cy="323.9" r="2.75" fill="#d62728" fill-opacity="0.5" stroke="#000" stroke-opacity="0.85" stroke-width="0.8"/><circle cx="175.4" cy="324.1" r="2.75" fill="#d62728" fill-opacity="0.5" stroke="#000" stroke-opacity="0.85" stroke-width="0.8"/><circle cx="190.0" cy="324.5" r="2.75" fill="#d62728" fill-opacity="0.5" stroke="#000" stroke-opacity="0.85" stroke-width="0.8"/><circle cx="233.0" cy="324.1" r="2.75" fill="#d62728" fill-opacity="0.5" stroke="#000" stroke-opacity="0.85" stroke-width="0.8"/><polyline fill="none" stroke="#ff7f0e" stroke-width="1.7" stroke-linejoin="round" points="146.1,325.5 160.8,323.9 175.4,324.5 190.0,325.5 233.0,324.5"/><circle cx="146.1" cy="325.5" r="2.75" fill="#ff7f0e" fill-opacity="0.5" stroke="#000" stroke-opacity="0.85" stroke-width="0.8"/><circle cx="160.8" cy="323.9" r="2.75" fill="#ff7f0e" fill-opacity="0.5" stroke="#000" stroke-opacity="0.85" stroke-width="0.8"/><circle cx="175.4" cy="324.5" r="2.75" fill="#ff7f0e" fill-opacity="0.5" stroke="#000" stroke-opacity="0.85" stroke-width="0.8"/><circle cx="190.0" cy="325.5" r="2.75" fill="#ff7f0e" fill-opacity="0.5" stroke="#000" stroke-opacity="0.85" stroke-width="0.8"/><circle cx="233.0" cy="324.5" r="2.75" fill="#ff7f0e" fill-opacity="0.5" stroke="#000" stroke-opacity="0.85" stroke-width="0.8"/><polyline fill="none" stroke="#9467bd" stroke-width="1.7" stroke-linejoin="round" points="146.1,364.0 160.8,405.4 175.4,352.2 190.0,334.2 233.0,335.7"/><circle cx="146.1" cy="364.0" r="2.75" fill="#9467bd" fill-opacity="0.5" stroke="#000" stroke-opacity="0.85" stroke-width="0.8"/><circle cx="160.8" cy="405.4" r="2.75" fill="#9467bd" fill-opacity="0.5" stroke="#000" stroke-opacity="0.85" stroke-width="0.8"/><circle cx="175.4" cy="352.2" r="2.75" fill="#9467bd" fill-opacity="0.5" stroke="#000" stroke-opacity="0.85" stroke-width="0.8"/><circle cx="190.0" cy="334.2" r="2.75" fill="#9467bd" fill-opacity="0.5" stroke="#000" stroke-opacity="0.85" stroke-width="0.8"/><circle cx="233.0" cy="335.7" r="2.75" fill="#9467bd" fill-opacity="0.5" stroke="#000" stroke-opacity="0.85" stroke-width="0.8"/><polyline fill="none" stroke="#2ca02c" stroke-width="1.7" stroke-linejoin="round" points="146.1,405.4 160.8,405.4 175.4,330.0 190.0,323.9 233.0,328.6"/><circle cx="146.1" cy="405.4" r="2.75" fill="#2ca02c" fill-opacity="0.5" stroke="#000" stroke-opacity="0.85" stroke-width="0.8"/><circle cx="160.8" cy="405.4" r="2.75" fill="#2ca02c" fill-opacity="0.5" stroke="#000" stroke-opacity="0.85" stroke-width="0.8"/><circle cx="175.4" cy="330.0" r="2.75" fill="#2ca02c" fill-opacity="0.5" stroke="#000" stroke-opacity="0.85" stroke-width="0.8"/><circle cx="190.0" cy="323.9" r="2.75" fill="#2ca02c" fill-opacity="0.5" stroke="#000" stroke-opacity="0.85" stroke-width="0.8"/><circle cx="233.0" cy="328.6" r="2.75" fill="#2ca02c" fill-opacity="0.5" stroke="#000" stroke-opacity="0.85" stroke-width="0.8"/><polyline fill="none" stroke="#17becf" stroke-width="1.7" stroke-linejoin="round" points="146.1,364.0 160.8,405.4 175.4,362.3 190.0,356.9 233.0,349.2"/><circle cx="146.1" cy="364.0" r="2.75" fill="#17becf" fill-opacity="0.5" stroke="#000" stroke-opacity="0.85" stroke-width="0.8"/><circle cx="160.8" cy="405.4" r="2.75" fill="#17becf" fill-opacity="0.5" stroke="#000" stroke-opacity="0.85" stroke-width="0.8"/><circle cx="175.4" cy="362.3" r="2.75" fill="#17becf" fill-opacity="0.5" stroke="#000" stroke-opacity="0.85" stroke-width="0.8"/><circle cx="190.0" cy="356.9" r="2.75" fill="#17becf" fill-opacity="0.5" stroke="#000" stroke-opacity="0.85" stroke-width="0.8"/><circle cx="233.0" cy="349.2" r="2.75" fill="#17becf" fill-opacity="0.5" stroke="#000" stroke-opacity="0.85" stroke-width="0.8"/><polyline fill="none" stroke="#1f77b4" stroke-width="1.7" stroke-linejoin="round" points="146.3,324.1 161.0,323.9 175.6,324.1 190.2,324.5 233.2,324.1"/><circle cx="146.3" cy="324.1" r="2.75" fill="#1f77b4" fill-opacity="0.5" stroke="#000" stroke-opacity="0.85" stroke-width="0.8"/><circle cx="161.0" cy="323.9" r="2.75" fill="#1f77b4" fill-opacity="0.5" stroke="#000" stroke-opacity="0.85" stroke-width="0.8"/><circle cx="175.6" cy="324.1" r="2.75" fill="#1f77b4" fill-opacity="0.5" stroke="#000" stroke-opacity="0.85" stroke-width="0.8"/><circle cx="190.2" cy="324.5" r="2.75" fill="#1f77b4" fill-opacity="0.5" stroke="#000" stroke-opacity="0.85" stroke-width="0.8"/><circle cx="233.2" cy="324.1" r="2.75" fill="#1f77b4" fill-opacity="0.5" stroke="#000" stroke-opacity="0.85" stroke-width="0.8"/></g>
<rect x="141.5" y="318.6" width="97.0" height="90.6" fill="none" stroke="#000" stroke-width="1.1"/>
<clipPath id="cp32"><rect x="252.5" y="318.6" width="97.0" height="90.59999999999997"/></clipPath>
<line x1="250.7" y1="322.7" x2="252.5" y2="322.7" stroke="#000" stroke-width="1"/>
<line x1="250.7" y1="363.9" x2="252.5" y2="363.9" stroke="#000" stroke-width="1"/>
<line x1="250.7" y1="405.0" x2="252.5" y2="405.0" stroke="#000" stroke-width="1"/>
<line x1="309.2" y1="409.2" x2="309.2" y2="411.0" stroke="#000" stroke-width="1"/>
<text transform="translate(307.4,422.2) scale(1,1.0)" font-size="9.4" text-anchor="middle">10</text><text transform="translate(312.5,415.6) scale(1,1.05)" font-size="6.4">4</text>
<line x1="268.3" y1="409.2" x2="268.3" y2="410.4" stroke="#000" stroke-opacity="0.5" stroke-width="0.5"/>
<line x1="278.6" y1="409.2" x2="278.6" y2="410.4" stroke="#000" stroke-opacity="0.5" stroke-width="0.5"/>
<line x1="285.9" y1="409.2" x2="285.9" y2="410.4" stroke="#000" stroke-opacity="0.5" stroke-width="0.5"/>
<line x1="291.6" y1="409.2" x2="291.6" y2="410.4" stroke="#000" stroke-opacity="0.5" stroke-width="0.5"/>
<line x1="296.2" y1="409.2" x2="296.2" y2="410.4" stroke="#000" stroke-opacity="0.5" stroke-width="0.5"/>
<line x1="300.1" y1="409.2" x2="300.1" y2="410.4" stroke="#000" stroke-opacity="0.5" stroke-width="0.5"/>
<line x1="303.5" y1="409.2" x2="303.5" y2="410.4" stroke="#000" stroke-opacity="0.5" stroke-width="0.5"/>
<line x1="306.5" y1="409.2" x2="306.5" y2="410.4" stroke="#000" stroke-opacity="0.5" stroke-width="0.5"/>
<line x1="326.8" y1="409.2" x2="326.8" y2="410.4" stroke="#000" stroke-opacity="0.5" stroke-width="0.5"/>
<line x1="337.1" y1="409.2" x2="337.1" y2="410.4" stroke="#000" stroke-opacity="0.5" stroke-width="0.5"/>
<line x1="344.4" y1="409.2" x2="344.4" y2="410.4" stroke="#000" stroke-opacity="0.5" stroke-width="0.5"/>
<g clip-path="url(#cp32)"><polyline fill="none" stroke="#d62728" stroke-width="1.7" stroke-linejoin="round" points="257.1,324.9 274.7,324.9 291.9,326.6 309.0,325.5 344.0,324.9"/><circle cx="257.1" cy="324.9" r="2.75" fill="#d62728" fill-opacity="0.5" stroke="#000" stroke-opacity="0.85" stroke-width="0.8"/><circle cx="274.7" cy="324.9" r="2.75" fill="#d62728" fill-opacity="0.5" stroke="#000" stroke-opacity="0.85" stroke-width="0.8"/><circle cx="291.9" cy="326.6" r="2.75" fill="#d62728" fill-opacity="0.5" stroke="#000" stroke-opacity="0.85" stroke-width="0.8"/><circle cx="309.0" cy="325.5" r="2.75" fill="#d62728" fill-opacity="0.5" stroke="#000" stroke-opacity="0.85" stroke-width="0.8"/><circle cx="344.0" cy="324.9" r="2.75" fill="#d62728" fill-opacity="0.5" stroke="#000" stroke-opacity="0.85" stroke-width="0.8"/><polyline fill="none" stroke="#ff7f0e" stroke-width="1.7" stroke-linejoin="round" points="257.1,340.7 274.7,328.6 291.9,327.0 309.0,326.2 344.0,326.2"/><circle cx="257.1" cy="340.7" r="2.75" fill="#ff7f0e" fill-opacity="0.5" stroke="#000" stroke-opacity="0.85" stroke-width="0.8"/><circle cx="274.7" cy="328.6" r="2.75" fill="#ff7f0e" fill-opacity="0.5" stroke="#000" stroke-opacity="0.85" stroke-width="0.8"/><circle cx="291.9" cy="327.0" r="2.75" fill="#ff7f0e" fill-opacity="0.5" stroke="#000" stroke-opacity="0.85" stroke-width="0.8"/><circle cx="309.0" cy="326.2" r="2.75" fill="#ff7f0e" fill-opacity="0.5" stroke="#000" stroke-opacity="0.85" stroke-width="0.8"/><circle cx="344.0" cy="326.2" r="2.75" fill="#ff7f0e" fill-opacity="0.5" stroke="#000" stroke-opacity="0.85" stroke-width="0.8"/><polyline fill="none" stroke="#9467bd" stroke-width="1.7" stroke-linejoin="round" points="257.1,399.9 274.7,405.4 291.9,398.9 309.0,361.9 344.0,337.7"/><circle cx="257.1" cy="399.9" r="2.75" fill="#9467bd" fill-opacity="0.5" stroke="#000" stroke-opacity="0.85" stroke-width="0.8"/><circle cx="274.7" cy="405.4" r="2.75" fill="#9467bd" fill-opacity="0.5" stroke="#000" stroke-opacity="0.85" stroke-width="0.8"/><circle cx="291.9" cy="398.9" r="2.75" fill="#9467bd" fill-opacity="0.5" stroke="#000" stroke-opacity="0.85" stroke-width="0.8"/><circle cx="309.0" cy="361.9" r="2.75" fill="#9467bd" fill-opacity="0.5" stroke="#000" stroke-opacity="0.85" stroke-width="0.8"/><circle cx="344.0" cy="337.7" r="2.75" fill="#9467bd" fill-opacity="0.5" stroke="#000" stroke-opacity="0.85" stroke-width="0.8"/><polyline fill="none" stroke="#2ca02c" stroke-width="1.7" stroke-linejoin="round" points="257.1,405.4 274.7,405.4 291.9,327.0 309.0,326.2 344.0,324.9"/><circle cx="257.1" cy="405.4" r="2.75" fill="#2ca02c" fill-opacity="0.5" stroke="#000" stroke-opacity="0.85" stroke-width="0.8"/><circle cx="274.7" cy="405.4" r="2.75" fill="#2ca02c" fill-opacity="0.5" stroke="#000" stroke-opacity="0.85" stroke-width="0.8"/><circle cx="291.9" cy="327.0" r="2.75" fill="#2ca02c" fill-opacity="0.5" stroke="#000" stroke-opacity="0.85" stroke-width="0.8"/><circle cx="309.0" cy="326.2" r="2.75" fill="#2ca02c" fill-opacity="0.5" stroke="#000" stroke-opacity="0.85" stroke-width="0.8"/><circle cx="344.0" cy="324.9" r="2.75" fill="#2ca02c" fill-opacity="0.5" stroke="#000" stroke-opacity="0.85" stroke-width="0.8"/><polyline fill="none" stroke="#17becf" stroke-width="1.7" stroke-linejoin="round" points="257.1,394.3 274.7,351.8 291.9,331.0 309.0,405.4 344.0,327.6"/><circle cx="257.1" cy="394.3" r="2.75" fill="#17becf" fill-opacity="0.5" stroke="#000" stroke-opacity="0.85" stroke-width="0.8"/><circle cx="274.7" cy="351.8" r="2.75" fill="#17becf" fill-opacity="0.5" stroke="#000" stroke-opacity="0.85" stroke-width="0.8"/><circle cx="291.9" cy="331.0" r="2.75" fill="#17becf" fill-opacity="0.5" stroke="#000" stroke-opacity="0.85" stroke-width="0.8"/><circle cx="309.0" cy="405.4" r="2.75" fill="#17becf" fill-opacity="0.5" stroke="#000" stroke-opacity="0.85" stroke-width="0.8"/><circle cx="344.0" cy="327.6" r="2.75" fill="#17becf" fill-opacity="0.5" stroke="#000" stroke-opacity="0.85" stroke-width="0.8"/><polyline fill="none" stroke="#1f77b4" stroke-width="1.7" stroke-linejoin="round" points="257.3,326.6 274.9,325.5 292.1,327.6 309.2,327.6 344.2,327.6"/><circle cx="257.3" cy="326.6" r="2.75" fill="#1f77b4" fill-opacity="0.5" stroke="#000" stroke-opacity="0.85" stroke-width="0.8"/><circle cx="274.9" cy="325.5" r="2.75" fill="#1f77b4" fill-opacity="0.5" stroke="#000" stroke-opacity="0.85" stroke-width="0.8"/><circle cx="292.1" cy="327.6" r="2.75" fill="#1f77b4" fill-opacity="0.5" stroke="#000" stroke-opacity="0.85" stroke-width="0.8"/><circle cx="309.2" cy="327.6" r="2.75" fill="#1f77b4" fill-opacity="0.5" stroke="#000" stroke-opacity="0.85" stroke-width="0.8"/><circle cx="344.2" cy="327.6" r="2.75" fill="#1f77b4" fill-opacity="0.5" stroke="#000" stroke-opacity="0.85" stroke-width="0.8"/></g>
<rect x="252.5" y="318.6" width="97.0" height="90.6" fill="none" stroke="#000" stroke-width="1.1"/>
<clipPath id="cp33"><rect x="363.5" y="318.6" width="97.0" height="90.59999999999997"/></clipPath>
<line x1="361.7" y1="322.7" x2="363.5" y2="322.7" stroke="#000" stroke-width="1"/>
<line x1="361.7" y1="363.9" x2="363.5" y2="363.9" stroke="#000" stroke-width="1"/>
<line x1="361.7" y1="405.0" x2="363.5" y2="405.0" stroke="#000" stroke-width="1"/>
<line x1="368.1" y1="409.2" x2="368.1" y2="411.0" stroke="#000" stroke-width="1"/>
<text transform="translate(368.1,419.4) scale(1,1.0)" font-size="9.4" text-anchor="middle">30</text>
<line x1="396.4" y1="409.2" x2="396.4" y2="411.0" stroke="#000" stroke-width="1"/>
<text transform="translate(396.4,419.4) scale(1,1.0)" font-size="9.4" text-anchor="middle">40</text>
<line x1="424.5" y1="409.2" x2="424.5" y2="411.0" stroke="#000" stroke-width="1"/>
<text transform="translate(424.5,419.4) scale(1,1.0)" font-size="9.4" text-anchor="middle">50</text>
<line x1="452.6" y1="409.2" x2="452.6" y2="411.0" stroke="#000" stroke-width="1"/>
<text transform="translate(452.6,419.4) scale(1,1.0)" font-size="9.4" text-anchor="middle">60</text>
<g clip-path="url(#cp33)"><polyline fill="none" stroke="#d62728" stroke-width="1.7" stroke-linejoin="round" points="368.1,352.2 396.4,335.0 424.7,328.2 452.6,327.6"/><circle cx="368.1" cy="352.2" r="2.75" fill="#d62728" fill-opacity="0.5" stroke="#000" stroke-opacity="0.85" stroke-width="0.8"/><circle cx="396.4" cy="335.0" r="2.75" fill="#d62728" fill-opacity="0.5" stroke="#000" stroke-opacity="0.85" stroke-width="0.8"/><circle cx="424.7" cy="328.2" r="2.75" fill="#d62728" fill-opacity="0.5" stroke="#000" stroke-opacity="0.85" stroke-width="0.8"/><circle cx="452.6" cy="327.6" r="2.75" fill="#d62728" fill-opacity="0.5" stroke="#000" stroke-opacity="0.85" stroke-width="0.8"/><polyline fill="none" stroke="#ff7f0e" stroke-width="1.7" stroke-linejoin="round" points="368.1,405.4 396.4,334.6 424.7,390.6 452.6,330.2"/><circle cx="368.1" cy="405.4" r="2.75" fill="#ff7f0e" fill-opacity="0.5" stroke="#000" stroke-opacity="0.85" stroke-width="0.8"/><circle cx="396.4" cy="334.6" r="2.75" fill="#ff7f0e" fill-opacity="0.5" stroke="#000" stroke-opacity="0.85" stroke-width="0.8"/><circle cx="424.7" cy="390.6" r="2.75" fill="#ff7f0e" fill-opacity="0.5" stroke="#000" stroke-opacity="0.85" stroke-width="0.8"/><circle cx="452.6" cy="330.2" r="2.75" fill="#ff7f0e" fill-opacity="0.5" stroke="#000" stroke-opacity="0.85" stroke-width="0.8"/><polyline fill="none" stroke="#9467bd" stroke-width="1.7" stroke-linejoin="round" points="368.1,405.4 396.4,405.4 424.7,405.4 452.6,397.7"/><circle cx="368.1" cy="405.4" r="2.75" fill="#9467bd" fill-opacity="0.5" stroke="#000" stroke-opacity="0.85" stroke-width="0.8"/><circle cx="396.4" cy="405.4" r="2.75" fill="#9467bd" fill-opacity="0.5" stroke="#000" stroke-opacity="0.85" stroke-width="0.8"/><circle cx="424.7" cy="405.4" r="2.75" fill="#9467bd" fill-opacity="0.5" stroke="#000" stroke-opacity="0.85" stroke-width="0.8"/><circle cx="452.6" cy="397.7" r="2.75" fill="#9467bd" fill-opacity="0.5" stroke="#000" stroke-opacity="0.85" stroke-width="0.8"/><polyline fill="none" stroke="#2ca02c" stroke-width="1.7" stroke-linejoin="round" points="368.1,405.4 396.4,405.4 424.7,347.2 452.6,338.7"/><circle cx="368.1" cy="405.4" r="2.75" fill="#2ca02c" fill-opacity="0.5" stroke="#000" stroke-opacity="0.85" stroke-width="0.8"/><circle cx="396.4" cy="405.4" r="2.75" fill="#2ca02c" fill-opacity="0.5" stroke="#000" stroke-opacity="0.85" stroke-width="0.8"/><circle cx="424.7" cy="347.2" r="2.75" fill="#2ca02c" fill-opacity="0.5" stroke="#000" stroke-opacity="0.85" stroke-width="0.8"/><circle cx="452.6" cy="338.7" r="2.75" fill="#2ca02c" fill-opacity="0.5" stroke="#000" stroke-opacity="0.85" stroke-width="0.8"/><polyline fill="none" stroke="#17becf" stroke-width="1.7" stroke-linejoin="round" points="368.1,360.5 396.4,349.4 424.7,395.7 452.6,347.2"/><circle cx="368.1" cy="360.5" r="2.75" fill="#17becf" fill-opacity="0.5" stroke="#000" stroke-opacity="0.85" stroke-width="0.8"/><circle cx="396.4" cy="349.4" r="2.75" fill="#17becf" fill-opacity="0.5" stroke="#000" stroke-opacity="0.85" stroke-width="0.8"/><circle cx="424.7" cy="395.7" r="2.75" fill="#17becf" fill-opacity="0.5" stroke="#000" stroke-opacity="0.85" stroke-width="0.8"/><circle cx="452.6" cy="347.2" r="2.75" fill="#17becf" fill-opacity="0.5" stroke="#000" stroke-opacity="0.85" stroke-width="0.8"/><polyline fill="none" stroke="#1f77b4" stroke-width="1.7" stroke-linejoin="round" points="371.1,327.0 399.4,325.5 427.7,324.9 455.6,326.0"/><circle cx="371.1" cy="327.0" r="2.75" fill="#1f77b4" fill-opacity="0.5" stroke="#000" stroke-opacity="0.85" stroke-width="0.8"/><circle cx="399.4" cy="325.5" r="2.75" fill="#1f77b4" fill-opacity="0.5" stroke="#000" stroke-opacity="0.85" stroke-width="0.8"/><circle cx="427.7" cy="324.9" r="2.75" fill="#1f77b4" fill-opacity="0.5" stroke="#000" stroke-opacity="0.85" stroke-width="0.8"/><circle cx="455.6" cy="326.0" r="2.75" fill="#1f77b4" fill-opacity="0.5" stroke="#000" stroke-opacity="0.85" stroke-width="0.8"/></g>
<rect x="363.5" y="318.6" width="97.0" height="90.6" fill="none" stroke="#000" stroke-width="1.1"/>
<clipPath id="cp34"><rect x="474.5" y="318.6" width="97.0" height="90.59999999999997"/></clipPath>
<line x1="472.7" y1="322.7" x2="474.5" y2="322.7" stroke="#000" stroke-width="1"/>
<line x1="472.7" y1="363.9" x2="474.5" y2="363.9" stroke="#000" stroke-width="1"/>
<line x1="472.7" y1="405.0" x2="474.5" y2="405.0" stroke="#000" stroke-width="1"/>
<line x1="479.1" y1="409.2" x2="479.1" y2="411.0" stroke="#000" stroke-width="1"/>
<text transform="translate(479.1,419.4) scale(1,1.0)" font-size="9.4" text-anchor="middle">10</text>
<line x1="507.2" y1="409.2" x2="507.2" y2="411.0" stroke="#000" stroke-width="1"/>
<text transform="translate(507.2,419.4) scale(1,1.0)" font-size="9.4" text-anchor="middle">20</text>
<line x1="535.4" y1="409.2" x2="535.4" y2="411.0" stroke="#000" stroke-width="1"/>
<text transform="translate(535.4,419.4) scale(1,1.0)" font-size="9.4" text-anchor="middle">30</text>
<line x1="563.6" y1="409.2" x2="563.6" y2="411.0" stroke="#000" stroke-width="1"/>
<text transform="translate(563.6,419.4) scale(1,1.0)" font-size="9.4" text-anchor="middle">40</text>
<g clip-path="url(#cp34)"><polyline fill="none" stroke="#d62728" stroke-width="1.7" stroke-linejoin="round" points="479.1,345.8 507.4,335.7 535.3,323.5 563.6,324.1"/><circle cx="479.1" cy="345.8" r="2.75" fill="#d62728" fill-opacity="0.5" stroke="#000" stroke-opacity="0.85" stroke-width="0.8"/><circle cx="507.4" cy="335.7" r="2.75" fill="#d62728" fill-opacity="0.5" stroke="#000" stroke-opacity="0.85" stroke-width="0.8"/><circle cx="535.3" cy="323.5" r="2.75" fill="#d62728" fill-opacity="0.5" stroke="#000" stroke-opacity="0.85" stroke-width="0.8"/><circle cx="563.6" cy="324.1" r="2.75" fill="#d62728" fill-opacity="0.5" stroke="#000" stroke-opacity="0.85" stroke-width="0.8"/><polyline fill="none" stroke="#ff7f0e" stroke-width="1.7" stroke-linejoin="round" points="479.1,333.6 507.4,331.0 535.3,324.1 563.6,323.5"/><circle cx="479.1" cy="333.6" r="2.75" fill="#ff7f0e" fill-opacity="0.5" stroke="#000" stroke-opacity="0.85" stroke-width="0.8"/><circle cx="507.4" cy="331.0" r="2.75" fill="#ff7f0e" fill-opacity="0.5" stroke="#000" stroke-opacity="0.85" stroke-width="0.8"/><circle cx="535.3" cy="324.1" r="2.75" fill="#ff7f0e" fill-opacity="0.5" stroke="#000" stroke-opacity="0.85" stroke-width="0.8"/><circle cx="563.6" cy="323.5" r="2.75" fill="#ff7f0e" fill-opacity="0.5" stroke="#000" stroke-opacity="0.85" stroke-width="0.8"/><polyline fill="none" stroke="#9467bd" stroke-width="1.7" stroke-linejoin="round" points="479.1,405.4 507.4,369.0 535.3,338.1 563.6,358.3"/><circle cx="479.1" cy="405.4" r="2.75" fill="#9467bd" fill-opacity="0.5" stroke="#000" stroke-opacity="0.85" stroke-width="0.8"/><circle cx="507.4" cy="369.0" r="2.75" fill="#9467bd" fill-opacity="0.5" stroke="#000" stroke-opacity="0.85" stroke-width="0.8"/><circle cx="535.3" cy="338.1" r="2.75" fill="#9467bd" fill-opacity="0.5" stroke="#000" stroke-opacity="0.85" stroke-width="0.8"/><circle cx="563.6" cy="358.3" r="2.75" fill="#9467bd" fill-opacity="0.5" stroke="#000" stroke-opacity="0.85" stroke-width="0.8"/><polyline fill="none" stroke="#2ca02c" stroke-width="1.7" stroke-linejoin="round" points="479.1,405.4 507.4,405.4 535.3,322.5 563.6,325.5"/><circle cx="479.1" cy="405.4" r="2.75" fill="#2ca02c" fill-opacity="0.5" stroke="#000" stroke-opacity="0.85" stroke-width="0.8"/><circle cx="507.4" cy="405.4" r="2.75" fill="#2ca02c" fill-opacity="0.5" stroke="#000" stroke-opacity="0.85" stroke-width="0.8"/><circle cx="535.3" cy="322.5" r="2.75" fill="#2ca02c" fill-opacity="0.5" stroke="#000" stroke-opacity="0.85" stroke-width="0.8"/><circle cx="563.6" cy="325.5" r="2.75" fill="#2ca02c" fill-opacity="0.5" stroke="#000" stroke-opacity="0.85" stroke-width="0.8"/><polyline fill="none" stroke="#17becf" stroke-width="1.7" stroke-linejoin="round" points="479.1,405.4 507.4,405.4 535.3,333.6 563.6,343.3"/><circle cx="479.1" cy="405.4" r="2.75" fill="#17becf" fill-opacity="0.5" stroke="#000" stroke-opacity="0.85" stroke-width="0.8"/><circle cx="507.4" cy="405.4" r="2.75" fill="#17becf" fill-opacity="0.5" stroke="#000" stroke-opacity="0.85" stroke-width="0.8"/><circle cx="535.3" cy="333.6" r="2.75" fill="#17becf" fill-opacity="0.5" stroke="#000" stroke-opacity="0.85" stroke-width="0.8"/><circle cx="563.6" cy="343.3" r="2.75" fill="#17becf" fill-opacity="0.5" stroke="#000" stroke-opacity="0.85" stroke-width="0.8"/><polyline fill="none" stroke="#1f77b4" stroke-width="1.7" stroke-linejoin="round" points="482.1,324.1 510.4,324.1 538.3,324.1 566.6,324.1"/><circle cx="482.1" cy="324.1" r="2.75" fill="#1f77b4" fill-opacity="0.5" stroke="#000" stroke-opacity="0.85" stroke-width="0.8"/><circle cx="510.4" cy="324.1" r="2.75" fill="#1f77b4" fill-opacity="0.5" stroke="#000" stroke-opacity="0.85" stroke-width="0.8"/><circle cx="538.3" cy="324.1" r="2.75" fill="#1f77b4" fill-opacity="0.5" stroke="#000" stroke-opacity="0.85" stroke-width="0.8"/><circle cx="566.6" cy="324.1" r="2.75" fill="#1f77b4" fill-opacity="0.5" stroke="#000" stroke-opacity="0.85" stroke-width="0.8"/></g>
<rect x="474.5" y="318.6" width="97.0" height="90.6" fill="none" stroke="#000" stroke-width="1.1"/>
<clipPath id="cp35"><rect x="585.5" y="318.6" width="95.0" height="90.59999999999997"/></clipPath>
<line x1="583.7" y1="322.7" x2="585.5" y2="322.7" stroke="#000" stroke-width="1"/>
<line x1="583.7" y1="363.9" x2="585.5" y2="363.9" stroke="#000" stroke-width="1"/>
<line x1="583.7" y1="405.0" x2="585.5" y2="405.0" stroke="#000" stroke-width="1"/>
<line x1="590.1" y1="409.2" x2="590.1" y2="411.0" stroke="#000" stroke-width="1"/>
<text transform="translate(590.1,419.4) scale(1,1.0)" font-size="9.4" text-anchor="middle">40</text>
<line x1="618.3" y1="409.2" x2="618.3" y2="411.0" stroke="#000" stroke-width="1"/>
<text transform="translate(618.3,419.4) scale(1,1.0)" font-size="9.4" text-anchor="middle">50</text>
<line x1="646.5" y1="409.2" x2="646.5" y2="411.0" stroke="#000" stroke-width="1"/>
<text transform="translate(646.5,419.4) scale(1,1.0)" font-size="9.4" text-anchor="middle">60</text>
<line x1="674.6" y1="409.2" x2="674.6" y2="411.0" stroke="#000" stroke-width="1"/>
<text transform="translate(674.6,419.4) scale(1,1.0)" font-size="9.4" text-anchor="middle">70</text>
<g clip-path="url(#cp35)"><polyline fill="none" stroke="#d62728" stroke-width="1.7" stroke-linejoin="round" points="590.1,324.9 618.4,324.9 646.7,324.9 674.6,325.5"/><circle cx="590.1" cy="324.9" r="2.75" fill="#d62728" fill-opacity="0.5" stroke="#000" stroke-opacity="0.85" stroke-width="0.8"/><circle cx="618.4" cy="324.9" r="2.75" fill="#d62728" fill-opacity="0.5" stroke="#000" stroke-opacity="0.85" stroke-width="0.8"/><circle cx="646.7" cy="324.9" r="2.75" fill="#d62728" fill-opacity="0.5" stroke="#000" stroke-opacity="0.85" stroke-width="0.8"/><circle cx="674.6" cy="325.5" r="2.75" fill="#d62728" fill-opacity="0.5" stroke="#000" stroke-opacity="0.85" stroke-width="0.8"/><polyline fill="none" stroke="#ff7f0e" stroke-width="1.7" stroke-linejoin="round" points="590.1,402.8 618.4,329.0 646.7,325.5 674.6,325.5"/><circle cx="590.1" cy="402.8" r="2.75" fill="#ff7f0e" fill-opacity="0.5" stroke="#000" stroke-opacity="0.85" stroke-width="0.8"/><circle cx="618.4" cy="329.0" r="2.75" fill="#ff7f0e" fill-opacity="0.5" stroke="#000" stroke-opacity="0.85" stroke-width="0.8"/><circle cx="646.7" cy="325.5" r="2.75" fill="#ff7f0e" fill-opacity="0.5" stroke="#000" stroke-opacity="0.85" stroke-width="0.8"/><circle cx="674.6" cy="325.5" r="2.75" fill="#ff7f0e" fill-opacity="0.5" stroke="#000" stroke-opacity="0.85" stroke-width="0.8"/><polyline fill="none" stroke="#9467bd" stroke-width="1.7" stroke-linejoin="round" points="590.1,405.4 618.4,405.4 646.7,396.3 674.6,375.1"/><circle cx="590.1" cy="405.4" r="2.75" fill="#9467bd" fill-opacity="0.5" stroke="#000" stroke-opacity="0.85" stroke-width="0.8"/><circle cx="618.4" cy="405.4" r="2.75" fill="#9467bd" fill-opacity="0.5" stroke="#000" stroke-opacity="0.85" stroke-width="0.8"/><circle cx="646.7" cy="396.3" r="2.75" fill="#9467bd" fill-opacity="0.5" stroke="#000" stroke-opacity="0.85" stroke-width="0.8"/><circle cx="674.6" cy="375.1" r="2.75" fill="#9467bd" fill-opacity="0.5" stroke="#000" stroke-opacity="0.85" stroke-width="0.8"/><polyline fill="none" stroke="#2ca02c" stroke-width="1.7" stroke-linejoin="round" points="590.1,405.4 618.4,405.4 646.7,325.5 674.6,329.0"/><circle cx="590.1" cy="405.4" r="2.75" fill="#2ca02c" fill-opacity="0.5" stroke="#000" stroke-opacity="0.85" stroke-width="0.8"/><circle cx="618.4" cy="405.4" r="2.75" fill="#2ca02c" fill-opacity="0.5" stroke="#000" stroke-opacity="0.85" stroke-width="0.8"/><circle cx="646.7" cy="325.5" r="2.75" fill="#2ca02c" fill-opacity="0.5" stroke="#000" stroke-opacity="0.85" stroke-width="0.8"/><circle cx="674.6" cy="329.0" r="2.75" fill="#2ca02c" fill-opacity="0.5" stroke="#000" stroke-opacity="0.85" stroke-width="0.8"/><polyline fill="none" stroke="#17becf" stroke-width="1.7" stroke-linejoin="round" points="590.1,354.9 618.4,369.0 646.7,333.6 674.6,329.6"/><circle cx="590.1" cy="354.9" r="2.75" fill="#17becf" fill-opacity="0.5" stroke="#000" stroke-opacity="0.85" stroke-width="0.8"/><circle cx="618.4" cy="369.0" r="2.75" fill="#17becf" fill-opacity="0.5" stroke="#000" stroke-opacity="0.85" stroke-width="0.8"/><circle cx="646.7" cy="333.6" r="2.75" fill="#17becf" fill-opacity="0.5" stroke="#000" stroke-opacity="0.85" stroke-width="0.8"/><circle cx="674.6" cy="329.6" r="2.75" fill="#17becf" fill-opacity="0.5" stroke="#000" stroke-opacity="0.85" stroke-width="0.8"/><polyline fill="none" stroke="#1f77b4" stroke-width="1.7" stroke-linejoin="round" points="592.7,327.6 621.0,327.0 649.3,328.2 677.2,326.2"/><circle cx="592.7" cy="327.6" r="2.75" fill="#1f77b4" fill-opacity="0.5" stroke="#000" stroke-opacity="0.85" stroke-width="0.8"/><circle cx="621.0" cy="327.0" r="2.75" fill="#1f77b4" fill-opacity="0.5" stroke="#000" stroke-opacity="0.85" stroke-width="0.8"/><circle cx="649.3" cy="328.2" r="2.75" fill="#1f77b4" fill-opacity="0.5" stroke="#000" stroke-opacity="0.85" stroke-width="0.8"/><circle cx="677.2" cy="326.2" r="2.75" fill="#1f77b4" fill-opacity="0.5" stroke="#000" stroke-opacity="0.85" stroke-width="0.8"/></g>
<rect x="585.5" y="318.6" width="95.0" height="90.6" fill="none" stroke="#000" stroke-width="1.1"/>
<text x="190" y="433.7" font-size="11.1" text-anchor="middle">Number of particles</text>
<text x="523" y="431.3" font-size="11.1" text-anchor="middle">Missing cone (°)</text>
<line x1="357.1" y1="-3.9" x2="357.1" y2="435" stroke="#000" stroke-width="2" stroke-dasharray="5.8 5.02"/>
<line x1="36.9" y1="458.6" x2="62.099999999999994" y2="458.6" stroke="#d62728" stroke-width="3.3"/>
<circle cx="49.6" cy="458.6" r="5.7" fill="#d62728" fill-opacity="0.5" stroke="#000" stroke-width="1.1"/>
<text x="69.8" y="462.5" font-size="10.8">DiffModeler</text>
<line x1="148" y1="458.6" x2="173.2" y2="458.6" stroke="#ff7f0e" stroke-width="3.3"/>
<circle cx="160.7" cy="458.6" r="5.7" fill="#ff7f0e" fill-opacity="0.5" stroke="#000" stroke-width="1.1"/>
<text x="181" y="462.5" font-size="10.8">DeepMainmast</text>
<line x1="276" y1="458.6" x2="301.2" y2="458.6" stroke="#9467bd" stroke-width="3.3"/>
<circle cx="288.7" cy="458.6" r="5.7" fill="#9467bd" fill-opacity="0.5" stroke="#000" stroke-width="1.1"/>
<text x="308" y="462.5" font-size="10.8">EModelX</text>
<line x1="373" y1="458.6" x2="398.2" y2="458.6" stroke="#2ca02c" stroke-width="3.3"/>
<circle cx="385.7" cy="458.6" r="5.7" fill="#2ca02c" fill-opacity="0.5" stroke="#000" stroke-width="1.1"/>
<text x="406" y="462.5" font-size="10.8">ModelAngelo</text>
<line x1="493" y1="458.6" x2="518.2" y2="458.6" stroke="#17becf" stroke-width="3.3"/>
<circle cx="505.7" cy="458.6" r="5.7" fill="#17becf" fill-opacity="0.5" stroke="#000" stroke-width="1.1"/>
<text x="525" y="462.5" font-size="10.8">MICA</text>
<line x1="572.4" y1="458.6" x2="597.6" y2="458.6" stroke="#1f77b4" stroke-width="3.3"/>
<circle cx="585.1" cy="458.6" r="5.7" fill="#1f77b4" fill-opacity="0.5" stroke="#000" stroke-width="1.1"/>
<text x="604" y="462.5" font-size="10.8">CoCoFold</text>
</svg></body></html>
